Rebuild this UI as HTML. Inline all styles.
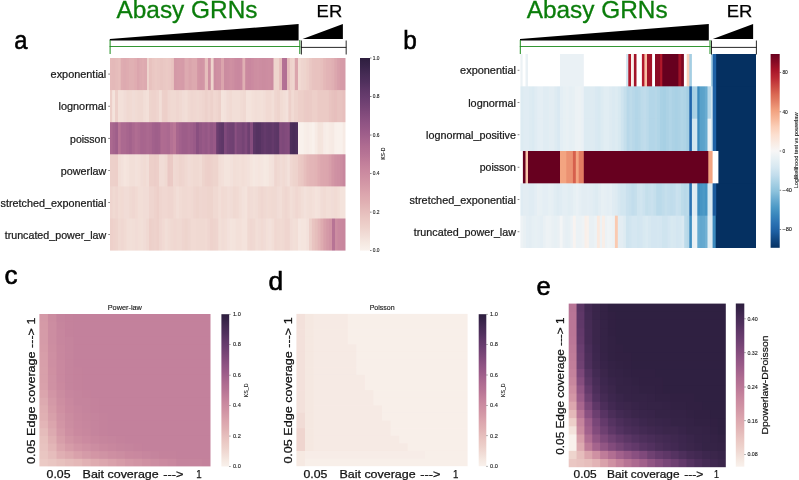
<!DOCTYPE html>
<html lang="en"><head><meta charset="utf-8"><title>Figure</title>
<style>html,body{margin:0;padding:0;background:#fff;overflow:hidden}body{width:799px;height:480px;font-family:"Liberation Sans",sans-serif}svg{will-change:transform}svg text{font-family:"Liberation Sans",sans-serif}</style></head>
<body>
<svg width="799" height="480" viewBox="0 0 799 480" font-family="Liberation Sans, sans-serif" style="display:block">
<rect x="0.00" y="0.00" width="799.00" height="480.00" fill="#ffffff"/>
<defs><mask id="m1" maskUnits="userSpaceOnUse" x="109.00" y="57.00" width="237.50" height="194.60"><rect x="110.00" y="58.00" width="235.50" height="192.60" fill="#fff"/></mask></defs>
<g mask="url(#m1)">
<defs><mask id="m2" maskUnits="userSpaceOnUse" x="106.00" y="54.00" width="243.50" height="38.30"><rect x="107.00" y="55.00" width="241.50" height="36.30" fill="#fff"/></mask></defs>
<g mask="url(#m2)">
<rect x="107.50" y="55.00" width="6.38" height="38.60" fill="#e5baba"/>
<rect x="112.67" y="55.00" width="3.88" height="38.60" fill="#e4b9b9"/>
<rect x="115.35" y="55.00" width="3.88" height="38.60" fill="#e5bcbb"/>
<rect x="118.03" y="55.00" width="3.88" height="38.60" fill="#e7bfbd"/>
<rect x="120.70" y="55.00" width="3.92" height="38.60" fill="#dfacb1"/>
<rect x="123.42" y="55.00" width="3.92" height="38.60" fill="#ddaab0"/>
<rect x="126.13" y="55.00" width="3.92" height="38.60" fill="#dfacb1"/>
<rect x="128.85" y="55.00" width="6.63" height="38.60" fill="#e0b0b3"/>
<rect x="134.28" y="55.00" width="3.92" height="38.60" fill="#dfacb1"/>
<rect x="137.00" y="55.00" width="3.40" height="38.60" fill="#dba5ad"/>
<rect x="139.20" y="55.00" width="3.80" height="38.60" fill="#ddaab0"/>
<rect x="141.80" y="55.00" width="3.80" height="38.60" fill="#dfacb1"/>
<rect x="144.40" y="55.00" width="3.80" height="38.60" fill="#ddaab0"/>
<rect x="147.00" y="55.00" width="3.20" height="38.60" fill="#eed4cd"/>
<rect x="149.00" y="55.00" width="3.97" height="38.60" fill="#e8c2bf"/>
<rect x="151.77" y="55.00" width="3.97" height="38.60" fill="#eac7c3"/>
<rect x="154.53" y="55.00" width="3.97" height="38.60" fill="#ebcac5"/>
<rect x="157.30" y="55.00" width="3.97" height="38.60" fill="#eac8c4"/>
<rect x="160.07" y="55.00" width="3.97" height="38.60" fill="#e9c6c2"/>
<rect x="162.83" y="55.00" width="3.97" height="38.60" fill="#eac8c4"/>
<rect x="165.60" y="55.00" width="3.97" height="38.60" fill="#ebcac5"/>
<rect x="168.37" y="55.00" width="3.97" height="38.60" fill="#eac8c4"/>
<rect x="171.13" y="55.00" width="3.97" height="38.60" fill="#e8c3c0"/>
<rect x="173.90" y="55.00" width="3.85" height="38.60" fill="#d499a7"/>
<rect x="176.55" y="55.00" width="3.85" height="38.60" fill="#d59ba8"/>
<rect x="179.20" y="55.00" width="3.85" height="38.60" fill="#d69ca8"/>
<rect x="181.85" y="55.00" width="3.85" height="38.60" fill="#d59ba8"/>
<rect x="184.50" y="55.00" width="5.40" height="38.60" fill="#ddaab0"/>
<rect x="188.70" y="55.00" width="4.03" height="38.60" fill="#daa4ac"/>
<rect x="191.53" y="55.00" width="6.87" height="38.60" fill="#dda9af"/>
<rect x="197.20" y="55.00" width="3.73" height="38.60" fill="#d396a5"/>
<rect x="199.73" y="55.00" width="3.73" height="38.60" fill="#d194a4"/>
<rect x="202.27" y="55.00" width="3.73" height="38.60" fill="#d396a5"/>
<rect x="204.80" y="55.00" width="4.40" height="38.60" fill="#e6bebc"/>
<rect x="208.00" y="55.00" width="4.00" height="38.60" fill="#cf90a2"/>
<rect x="210.80" y="55.00" width="4.00" height="38.60" fill="#eed4cd"/>
<rect x="213.60" y="55.00" width="3.67" height="38.60" fill="#cc8da1"/>
<rect x="216.07" y="55.00" width="3.67" height="38.60" fill="#cf90a2"/>
<rect x="218.53" y="55.00" width="3.67" height="38.60" fill="#cf91a3"/>
<rect x="221.00" y="55.00" width="4.20" height="38.60" fill="#dba5ad"/>
<rect x="224.00" y="55.00" width="3.83" height="38.60" fill="#cb8ca0"/>
<rect x="226.63" y="55.00" width="3.83" height="38.60" fill="#cc8da1"/>
<rect x="229.26" y="55.00" width="3.83" height="38.60" fill="#cf90a2"/>
<rect x="231.89" y="55.00" width="3.83" height="38.60" fill="#cd8ea1"/>
<rect x="234.51" y="55.00" width="3.83" height="38.60" fill="#ca899f"/>
<rect x="237.14" y="55.00" width="3.83" height="38.60" fill="#c9889f"/>
<rect x="239.77" y="55.00" width="3.83" height="38.60" fill="#cb8aa0"/>
<rect x="242.40" y="55.00" width="4.00" height="38.60" fill="#e0b0b3"/>
<rect x="245.20" y="55.00" width="4.03" height="38.60" fill="#ca899f"/>
<rect x="248.03" y="55.00" width="4.03" height="38.60" fill="#c9889f"/>
<rect x="250.86" y="55.00" width="4.03" height="38.60" fill="#cb8aa0"/>
<rect x="253.69" y="55.00" width="4.03" height="38.60" fill="#cd8ea1"/>
<rect x="256.52" y="55.00" width="4.03" height="38.60" fill="#ce8fa2"/>
<rect x="259.35" y="55.00" width="4.03" height="38.60" fill="#cc8da1"/>
<rect x="262.18" y="55.00" width="4.03" height="38.60" fill="#cb8ca0"/>
<rect x="265.01" y="55.00" width="4.03" height="38.60" fill="#cc8da1"/>
<rect x="267.84" y="55.00" width="4.03" height="38.60" fill="#cd8ea1"/>
<rect x="270.67" y="55.00" width="4.03" height="38.60" fill="#cb8aa0"/>
<rect x="273.50" y="55.00" width="6.90" height="38.60" fill="#eed4cd"/>
<rect x="279.20" y="55.00" width="4.00" height="38.60" fill="#e6bebc"/>
<rect x="282.00" y="55.00" width="3.70" height="38.60" fill="#b47194"/>
<rect x="284.50" y="55.00" width="3.70" height="38.60" fill="#b26f93"/>
<rect x="287.00" y="55.00" width="4.00" height="38.60" fill="#e6bebc"/>
<rect x="289.80" y="55.00" width="3.70" height="38.60" fill="#eed2cc"/>
<rect x="292.30" y="55.00" width="3.70" height="38.60" fill="#efd5cf"/>
<rect x="294.80" y="55.00" width="4.40" height="38.60" fill="#dba5ad"/>
<rect x="298.00" y="55.00" width="3.99" height="38.60" fill="#f1dad3"/>
<rect x="300.79" y="55.00" width="3.99" height="38.60" fill="#efd5cf"/>
<rect x="303.59" y="55.00" width="3.99" height="38.60" fill="#eed4cd"/>
<rect x="306.38" y="55.00" width="3.99" height="38.60" fill="#edcfc9"/>
<rect x="309.18" y="55.00" width="3.99" height="38.60" fill="#eac8c4"/>
<rect x="311.97" y="55.00" width="3.99" height="38.60" fill="#e8c3c0"/>
<rect x="314.76" y="55.00" width="6.79" height="38.60" fill="#e8c2bf"/>
<rect x="320.35" y="55.00" width="3.99" height="38.60" fill="#e7bfbd"/>
<rect x="323.15" y="55.00" width="3.99" height="38.60" fill="#e4b8b8"/>
<rect x="325.94" y="55.00" width="3.99" height="38.60" fill="#e2b4b6"/>
<rect x="328.74" y="55.00" width="3.99" height="38.60" fill="#e2b3b5"/>
<rect x="331.53" y="55.00" width="3.99" height="38.60" fill="#e0afb3"/>
<rect x="334.32" y="55.00" width="3.99" height="38.60" fill="#dca7ae"/>
<rect x="337.12" y="55.00" width="3.99" height="38.60" fill="#d8a0aa"/>
<rect x="339.91" y="55.00" width="3.99" height="38.60" fill="#d69ca8"/>
<rect x="342.71" y="55.00" width="5.29" height="38.60" fill="#d59ba8"/>
</g>
<defs><mask id="m3" maskUnits="userSpaceOnUse" x="106.00" y="89.10" width="243.50" height="35.30"><rect x="107.00" y="90.10" width="241.50" height="33.30" fill="#fff"/></mask></defs>
<g mask="url(#m3)">
<rect x="107.50" y="87.10" width="5.90" height="38.60" fill="#edcfc9"/>
<rect x="112.20" y="87.10" width="4.00" height="38.60" fill="#f4e3dc"/>
<rect x="115.00" y="87.10" width="4.20" height="38.60" fill="#edd0ca"/>
<rect x="118.00" y="87.10" width="6.80" height="38.60" fill="#f3e0d9"/>
<rect x="123.60" y="87.10" width="4.00" height="38.60" fill="#f1dcd6"/>
<rect x="126.40" y="87.10" width="4.00" height="38.60" fill="#f0d9d2"/>
<rect x="129.20" y="87.10" width="4.00" height="38.60" fill="#f1dad3"/>
<rect x="132.00" y="87.10" width="4.00" height="38.60" fill="#f1dcd6"/>
<rect x="134.80" y="87.10" width="4.00" height="38.60" fill="#f1dbd4"/>
<rect x="137.60" y="87.10" width="6.80" height="38.60" fill="#f0d9d2"/>
<rect x="143.20" y="87.10" width="4.00" height="38.60" fill="#f2ded7"/>
<rect x="146.00" y="87.10" width="4.20" height="38.60" fill="#f3e0d9"/>
<rect x="149.00" y="87.10" width="3.70" height="38.60" fill="#eed4cd"/>
<rect x="151.50" y="87.10" width="6.20" height="38.60" fill="#eed2cc"/>
<rect x="156.50" y="87.10" width="3.70" height="38.60" fill="#efd5cf"/>
<rect x="159.00" y="87.10" width="4.00" height="38.60" fill="#f2ded7"/>
<rect x="161.80" y="87.10" width="4.05" height="38.60" fill="#edd0ca"/>
<rect x="164.65" y="87.10" width="4.05" height="38.60" fill="#edcfc9"/>
<rect x="167.50" y="87.10" width="4.08" height="38.60" fill="#efd6d0"/>
<rect x="170.38" y="87.10" width="6.95" height="38.60" fill="#f0d9d2"/>
<rect x="176.12" y="87.10" width="4.08" height="38.60" fill="#efd6d0"/>
<rect x="179.00" y="87.10" width="4.08" height="38.60" fill="#f0d9d2"/>
<rect x="181.88" y="87.10" width="4.08" height="38.60" fill="#f1dcd6"/>
<rect x="184.75" y="87.10" width="4.08" height="38.60" fill="#f2ded7"/>
<rect x="187.62" y="87.10" width="4.08" height="38.60" fill="#f0d9d2"/>
<rect x="190.50" y="87.10" width="4.08" height="38.60" fill="#efd6d0"/>
<rect x="193.38" y="87.10" width="4.08" height="38.60" fill="#f0d7d1"/>
<rect x="196.25" y="87.10" width="4.08" height="38.60" fill="#f0d9d2"/>
<rect x="199.12" y="87.10" width="4.08" height="38.60" fill="#f0d7d1"/>
<rect x="202.00" y="87.10" width="4.00" height="38.60" fill="#efd5cf"/>
<rect x="204.80" y="87.10" width="4.00" height="38.60" fill="#edd1cb"/>
<rect x="207.60" y="87.10" width="4.00" height="38.60" fill="#efd5cf"/>
<rect x="210.40" y="87.10" width="4.00" height="38.60" fill="#edd1cb"/>
<rect x="213.20" y="87.10" width="3.75" height="38.60" fill="#f0d7d1"/>
<rect x="215.75" y="87.10" width="3.75" height="38.60" fill="#efd5cf"/>
<rect x="218.30" y="87.10" width="3.90" height="38.60" fill="#edd1cb"/>
<rect x="221.00" y="87.10" width="3.95" height="38.60" fill="#f4e3dc"/>
<rect x="223.75" y="87.10" width="3.95" height="38.60" fill="#f3e1db"/>
<rect x="226.50" y="87.10" width="3.95" height="38.60" fill="#f1dcd6"/>
<rect x="229.25" y="87.10" width="3.95" height="38.60" fill="#f1dad3"/>
<rect x="232.00" y="87.10" width="9.45" height="38.60" fill="#f2ded7"/>
<rect x="240.25" y="87.10" width="3.95" height="38.60" fill="#f1dbd4"/>
<rect x="243.00" y="87.10" width="4.20" height="38.60" fill="#f0d9d2"/>
<rect x="246.00" y="87.10" width="6.84" height="38.60" fill="#f4e3dc"/>
<rect x="251.64" y="87.10" width="4.02" height="38.60" fill="#f3e0d9"/>
<rect x="254.46" y="87.10" width="4.02" height="38.60" fill="#f2ded7"/>
<rect x="257.28" y="87.10" width="4.02" height="38.60" fill="#f2dfd8"/>
<rect x="260.10" y="87.10" width="4.02" height="38.60" fill="#f3e0d9"/>
<rect x="262.92" y="87.10" width="4.02" height="38.60" fill="#f2ded7"/>
<rect x="265.74" y="87.10" width="6.84" height="38.60" fill="#f1dad3"/>
<rect x="271.38" y="87.10" width="4.02" height="38.60" fill="#f2ded7"/>
<rect x="274.20" y="87.10" width="4.10" height="38.60" fill="#efd6d0"/>
<rect x="277.10" y="87.10" width="4.10" height="38.60" fill="#eed4cd"/>
<rect x="280.00" y="87.10" width="4.00" height="38.60" fill="#f1dbd4"/>
<rect x="282.80" y="87.10" width="4.00" height="38.60" fill="#f2ded7"/>
<rect x="285.60" y="87.10" width="4.00" height="38.60" fill="#f3e1db"/>
<rect x="288.40" y="87.10" width="4.00" height="38.60" fill="#edd0ca"/>
<rect x="291.20" y="87.10" width="4.00" height="38.60" fill="#f1dad3"/>
<rect x="294.00" y="87.10" width="5.20" height="38.60" fill="#eed4cd"/>
<rect x="298.00" y="87.10" width="6.79" height="38.60" fill="#edcfc9"/>
<rect x="303.59" y="87.10" width="3.99" height="38.60" fill="#ebcbc6"/>
<rect x="306.38" y="87.10" width="3.99" height="38.60" fill="#ebcac5"/>
<rect x="309.18" y="87.10" width="3.99" height="38.60" fill="#ebcbc6"/>
<rect x="311.97" y="87.10" width="6.79" height="38.60" fill="#edcfc9"/>
<rect x="317.56" y="87.10" width="12.38" height="38.60" fill="#ebcac5"/>
<rect x="328.74" y="87.10" width="3.99" height="38.60" fill="#e9c4c1"/>
<rect x="331.53" y="87.10" width="3.99" height="38.60" fill="#e7c1be"/>
<rect x="334.32" y="87.10" width="3.99" height="38.60" fill="#e7bfbd"/>
<rect x="337.12" y="87.10" width="6.79" height="38.60" fill="#e8c3c0"/>
<rect x="342.71" y="87.10" width="5.29" height="38.60" fill="#e7bfbd"/>
</g>
<defs><mask id="m4" maskUnits="userSpaceOnUse" x="106.00" y="121.20" width="243.50" height="35.30"><rect x="107.00" y="122.20" width="241.50" height="33.30" fill="#fff"/></mask></defs>
<g mask="url(#m4)">
<rect x="107.50" y="119.20" width="6.37" height="38.60" fill="#ab6990"/>
<rect x="112.67" y="119.20" width="3.87" height="38.60" fill="#a5648d"/>
<rect x="115.33" y="119.20" width="3.87" height="38.60" fill="#9f5f8a"/>
<rect x="118.00" y="119.20" width="3.90" height="38.60" fill="#b77495"/>
<rect x="120.70" y="119.20" width="6.73" height="38.60" fill="#ab6990"/>
<rect x="126.23" y="119.20" width="3.97" height="38.60" fill="#a7658e"/>
<rect x="129.00" y="119.20" width="4.06" height="38.60" fill="#a3628c"/>
<rect x="131.86" y="119.20" width="4.06" height="38.60" fill="#aa688f"/>
<rect x="134.72" y="119.20" width="4.06" height="38.60" fill="#b06d92"/>
<rect x="137.58" y="119.20" width="4.06" height="38.60" fill="#ac6a90"/>
<rect x="140.44" y="119.20" width="4.06" height="38.60" fill="#a7658e"/>
<rect x="143.30" y="119.20" width="4.06" height="38.60" fill="#a8668e"/>
<rect x="146.16" y="119.20" width="4.06" height="38.60" fill="#ab6990"/>
<rect x="149.02" y="119.20" width="4.06" height="38.60" fill="#a9678f"/>
<rect x="151.88" y="119.20" width="4.06" height="38.60" fill="#a2618c"/>
<rect x="154.74" y="119.20" width="4.06" height="38.60" fill="#9f5f8a"/>
<rect x="157.60" y="119.20" width="4.00" height="38.60" fill="#a1608b"/>
<rect x="160.40" y="119.20" width="4.40" height="38.60" fill="#af6c91"/>
<rect x="163.60" y="119.20" width="4.40" height="38.60" fill="#ae6b91"/>
<rect x="166.80" y="119.20" width="4.40" height="38.60" fill="#ab6990"/>
<rect x="170.00" y="119.20" width="4.20" height="38.60" fill="#b47194"/>
<rect x="173.00" y="119.20" width="4.20" height="38.60" fill="#ba7696"/>
<rect x="176.00" y="119.20" width="4.06" height="38.60" fill="#a8668e"/>
<rect x="178.86" y="119.20" width="4.06" height="38.60" fill="#a2618c"/>
<rect x="181.71" y="119.20" width="6.91" height="38.60" fill="#9d5d89"/>
<rect x="187.43" y="119.20" width="4.06" height="38.60" fill="#a1608b"/>
<rect x="190.29" y="119.20" width="4.06" height="38.60" fill="#9e5e8a"/>
<rect x="193.14" y="119.20" width="4.06" height="38.60" fill="#995a88"/>
<rect x="196.00" y="119.20" width="4.10" height="38.60" fill="#894f80"/>
<rect x="198.90" y="119.20" width="4.10" height="38.60" fill="#925684"/>
<rect x="201.80" y="119.20" width="4.10" height="38.60" fill="#985987"/>
<rect x="204.70" y="119.20" width="4.10" height="38.60" fill="#945785"/>
<rect x="207.60" y="119.20" width="3.40" height="38.60" fill="#9b5c89"/>
<rect x="209.80" y="119.20" width="4.40" height="38.60" fill="#925684"/>
<rect x="213.00" y="119.20" width="4.40" height="38.60" fill="#985987"/>
<rect x="216.20" y="119.20" width="3.80" height="38.60" fill="#6b3e6f"/>
<rect x="218.80" y="119.20" width="3.80" height="38.60" fill="#62396a"/>
<rect x="221.40" y="119.20" width="3.80" height="38.60" fill="#5e3767"/>
<rect x="224.00" y="119.20" width="4.00" height="38.60" fill="#7f497b"/>
<rect x="226.80" y="119.20" width="3.80" height="38.60" fill="#744375"/>
<rect x="229.40" y="119.20" width="3.80" height="38.60" fill="#714173"/>
<rect x="232.00" y="119.20" width="3.80" height="38.60" fill="#6f4172"/>
<rect x="234.60" y="119.20" width="3.30" height="38.60" fill="#8a5081"/>
<rect x="236.70" y="119.20" width="6.40" height="38.60" fill="#7c4879"/>
<rect x="241.90" y="119.20" width="3.80" height="38.60" fill="#754475"/>
<rect x="244.50" y="119.20" width="4.00" height="38.60" fill="#7f497b"/>
<rect x="247.30" y="119.20" width="3.90" height="38.60" fill="#6e4071"/>
<rect x="250.00" y="119.20" width="4.20" height="38.60" fill="#854d7e"/>
<rect x="253.00" y="119.20" width="3.85" height="38.60" fill="#5c3666"/>
<rect x="255.65" y="119.20" width="3.85" height="38.60" fill="#553361"/>
<rect x="258.30" y="119.20" width="3.85" height="38.60" fill="#563362"/>
<rect x="260.95" y="119.20" width="3.85" height="38.60" fill="#5e3767"/>
<rect x="263.60" y="119.20" width="3.85" height="38.60" fill="#643a6b"/>
<rect x="266.25" y="119.20" width="3.85" height="38.60" fill="#5f3868"/>
<rect x="268.90" y="119.20" width="3.85" height="38.60" fill="#5e3767"/>
<rect x="271.55" y="119.20" width="3.85" height="38.60" fill="#643a6b"/>
<rect x="274.20" y="119.20" width="3.70" height="38.60" fill="#5e3767"/>
<rect x="276.70" y="119.20" width="3.70" height="38.60" fill="#5b3665"/>
<rect x="279.20" y="119.20" width="3.85" height="38.60" fill="#824b7c"/>
<rect x="281.85" y="119.20" width="3.85" height="38.60" fill="#7e497a"/>
<rect x="284.50" y="119.20" width="3.85" height="38.60" fill="#824b7c"/>
<rect x="287.15" y="119.20" width="3.85" height="38.60" fill="#854d7e"/>
<rect x="289.80" y="119.20" width="3.93" height="38.60" fill="#4c2e5a"/>
<rect x="292.53" y="119.20" width="3.93" height="38.60" fill="#482c57"/>
<rect x="295.27" y="119.20" width="3.93" height="38.60" fill="#4d2f5b"/>
<rect x="298.00" y="119.20" width="6.79" height="38.60" fill="#f9f1ec"/>
<rect x="303.59" y="119.20" width="3.99" height="38.60" fill="#f8eee8"/>
<rect x="306.38" y="119.20" width="3.99" height="38.60" fill="#f7ece7"/>
<rect x="309.18" y="119.20" width="3.99" height="38.60" fill="#f8efe9"/>
<rect x="311.97" y="119.20" width="3.99" height="38.60" fill="#f9f1ec"/>
<rect x="314.76" y="119.20" width="3.99" height="38.60" fill="#f7ebe5"/>
<rect x="317.56" y="119.20" width="3.99" height="38.60" fill="#f4e4dd"/>
<rect x="320.35" y="119.20" width="3.99" height="38.60" fill="#f5e5de"/>
<rect x="323.15" y="119.20" width="3.99" height="38.60" fill="#f7ece7"/>
<rect x="325.94" y="119.20" width="3.99" height="38.60" fill="#f8eee8"/>
<rect x="328.74" y="119.20" width="3.99" height="38.60" fill="#f7ebe5"/>
<rect x="331.53" y="119.20" width="3.99" height="38.60" fill="#f6eae4"/>
<rect x="334.32" y="119.20" width="3.99" height="38.60" fill="#f9f0eb"/>
<rect x="337.12" y="119.20" width="6.79" height="38.60" fill="#f9f1ec"/>
<rect x="342.71" y="119.20" width="5.29" height="38.60" fill="#f7ebe5"/>
</g>
<defs><mask id="m5" maskUnits="userSpaceOnUse" x="106.00" y="153.30" width="243.50" height="35.30"><rect x="107.00" y="154.30" width="241.50" height="33.30" fill="#fff"/></mask></defs>
<g mask="url(#m5)">
<rect x="107.50" y="151.30" width="9.03" height="38.60" fill="#edd0ca"/>
<rect x="115.33" y="151.30" width="3.87" height="38.60" fill="#edcfc9"/>
<rect x="118.00" y="151.30" width="4.02" height="38.60" fill="#f2ded7"/>
<rect x="120.82" y="151.30" width="4.02" height="38.60" fill="#f3e1db"/>
<rect x="123.64" y="151.30" width="4.02" height="38.60" fill="#f5e5de"/>
<rect x="126.45" y="151.30" width="4.02" height="38.60" fill="#f4e3dc"/>
<rect x="129.27" y="151.30" width="6.84" height="38.60" fill="#f2dfd8"/>
<rect x="134.91" y="151.30" width="4.02" height="38.60" fill="#f3e1db"/>
<rect x="137.73" y="151.30" width="4.02" height="38.60" fill="#f3e0d9"/>
<rect x="140.55" y="151.30" width="4.02" height="38.60" fill="#f1dcd6"/>
<rect x="143.36" y="151.30" width="4.02" height="38.60" fill="#f1dbd4"/>
<rect x="146.18" y="151.30" width="4.02" height="38.60" fill="#f2ded7"/>
<rect x="149.00" y="151.30" width="6.20" height="38.60" fill="#edcfc9"/>
<rect x="154.00" y="151.30" width="3.70" height="38.60" fill="#eccdc8"/>
<rect x="156.50" y="151.30" width="3.70" height="38.60" fill="#edcfc9"/>
<rect x="159.00" y="151.30" width="6.87" height="38.60" fill="#f1dcd6"/>
<rect x="164.67" y="151.30" width="4.03" height="38.60" fill="#f0d9d2"/>
<rect x="167.50" y="151.30" width="3.95" height="38.60" fill="#eac8c4"/>
<rect x="170.25" y="151.30" width="3.95" height="38.60" fill="#ebcac5"/>
<rect x="173.00" y="151.30" width="4.10" height="38.60" fill="#f0d9d2"/>
<rect x="175.90" y="151.30" width="4.10" height="38.60" fill="#f0d7d1"/>
<rect x="178.80" y="151.30" width="4.10" height="38.60" fill="#eed4cd"/>
<rect x="181.70" y="151.30" width="4.10" height="38.60" fill="#efd5cf"/>
<rect x="184.60" y="151.30" width="4.10" height="38.60" fill="#f0d9d2"/>
<rect x="187.50" y="151.30" width="4.10" height="38.60" fill="#f1dcd6"/>
<rect x="190.40" y="151.30" width="4.10" height="38.60" fill="#f1dbd4"/>
<rect x="193.30" y="151.30" width="7.00" height="38.60" fill="#f0d9d2"/>
<rect x="199.10" y="151.30" width="4.10" height="38.60" fill="#f1dbd4"/>
<rect x="202.00" y="151.30" width="3.92" height="38.60" fill="#eed4cd"/>
<rect x="204.72" y="151.30" width="3.92" height="38.60" fill="#edd0ca"/>
<rect x="207.43" y="151.30" width="3.92" height="38.60" fill="#edcfc9"/>
<rect x="210.15" y="151.30" width="3.92" height="38.60" fill="#edd1cb"/>
<rect x="212.87" y="151.30" width="6.63" height="38.60" fill="#eed4cd"/>
<rect x="218.30" y="151.30" width="4.11" height="38.60" fill="#f2ded7"/>
<rect x="221.21" y="151.30" width="4.11" height="38.60" fill="#f3e0d9"/>
<rect x="224.12" y="151.30" width="7.02" height="38.60" fill="#f4e4dd"/>
<rect x="229.94" y="151.30" width="4.11" height="38.60" fill="#f3e1db"/>
<rect x="232.86" y="151.30" width="4.11" height="38.60" fill="#f2ded7"/>
<rect x="235.77" y="151.30" width="4.11" height="38.60" fill="#f2dfd8"/>
<rect x="238.68" y="151.30" width="4.11" height="38.60" fill="#f3e0d9"/>
<rect x="241.59" y="151.30" width="4.11" height="38.60" fill="#f2ded7"/>
<rect x="244.50" y="151.30" width="3.90" height="38.60" fill="#f3e0d9"/>
<rect x="247.20" y="151.30" width="3.90" height="38.60" fill="#f3e1db"/>
<rect x="249.90" y="151.30" width="3.90" height="38.60" fill="#f5e5de"/>
<rect x="252.60" y="151.30" width="3.90" height="38.60" fill="#f5e8e1"/>
<rect x="255.30" y="151.30" width="3.90" height="38.60" fill="#f5e6e0"/>
<rect x="258.00" y="151.30" width="3.90" height="38.60" fill="#f5e5de"/>
<rect x="260.70" y="151.30" width="3.90" height="38.60" fill="#f5e6e0"/>
<rect x="263.40" y="151.30" width="3.90" height="38.60" fill="#f6e9e2"/>
<rect x="266.10" y="151.30" width="3.90" height="38.60" fill="#f5e8e1"/>
<rect x="268.80" y="151.30" width="3.90" height="38.60" fill="#f4e3dc"/>
<rect x="271.50" y="151.30" width="3.90" height="38.60" fill="#f3e1db"/>
<rect x="274.20" y="151.30" width="4.00" height="38.60" fill="#efd6d0"/>
<rect x="277.00" y="151.30" width="4.00" height="38.60" fill="#f0d9d2"/>
<rect x="279.80" y="151.30" width="3.70" height="38.60" fill="#f1dcd6"/>
<rect x="282.30" y="151.30" width="3.70" height="38.60" fill="#f1dad3"/>
<rect x="284.80" y="151.30" width="3.70" height="38.60" fill="#f1dcd6"/>
<rect x="287.30" y="151.30" width="3.70" height="38.60" fill="#f3e1db"/>
<rect x="289.80" y="151.30" width="3.93" height="38.60" fill="#f0d7d1"/>
<rect x="292.53" y="151.30" width="3.93" height="38.60" fill="#eed4cd"/>
<rect x="295.27" y="151.30" width="3.93" height="38.60" fill="#eed2cc"/>
<rect x="298.00" y="151.30" width="3.99" height="38.60" fill="#ebcac5"/>
<rect x="300.79" y="151.30" width="3.99" height="38.60" fill="#eac7c3"/>
<rect x="303.59" y="151.30" width="3.99" height="38.60" fill="#e7bfbd"/>
<rect x="306.38" y="151.30" width="3.99" height="38.60" fill="#e4b8b8"/>
<rect x="309.18" y="151.30" width="6.79" height="38.60" fill="#e3b5b7"/>
<rect x="314.76" y="151.30" width="3.99" height="38.60" fill="#e2b3b5"/>
<rect x="317.56" y="151.30" width="3.99" height="38.60" fill="#dfacb1"/>
<rect x="320.35" y="151.30" width="3.99" height="38.60" fill="#dca7ae"/>
<rect x="323.15" y="151.30" width="3.99" height="38.60" fill="#dca6ae"/>
<rect x="325.94" y="151.30" width="3.99" height="38.60" fill="#dba5ad"/>
<rect x="328.74" y="151.30" width="3.99" height="38.60" fill="#d89faa"/>
<rect x="331.53" y="151.30" width="3.99" height="38.60" fill="#d396a5"/>
<rect x="334.32" y="151.30" width="3.99" height="38.60" fill="#cf91a3"/>
<rect x="337.12" y="151.30" width="3.99" height="38.60" fill="#ce8fa2"/>
<rect x="339.91" y="151.30" width="3.99" height="38.60" fill="#cc8da1"/>
<rect x="342.71" y="151.30" width="5.29" height="38.60" fill="#c8879e"/>
</g>
<defs><mask id="m6" maskUnits="userSpaceOnUse" x="106.00" y="185.40" width="243.50" height="35.30"><rect x="107.00" y="186.40" width="241.50" height="33.30" fill="#fff"/></mask></defs>
<g mask="url(#m6)">
<rect x="107.50" y="183.40" width="6.37" height="38.60" fill="#efd5cf"/>
<rect x="112.67" y="183.40" width="3.87" height="38.60" fill="#f0d9d2"/>
<rect x="115.33" y="183.40" width="3.87" height="38.60" fill="#efd6d0"/>
<rect x="118.00" y="183.40" width="4.02" height="38.60" fill="#f1dbd4"/>
<rect x="120.82" y="183.40" width="4.02" height="38.60" fill="#f1dad3"/>
<rect x="123.64" y="183.40" width="6.84" height="38.60" fill="#f1dcd6"/>
<rect x="129.27" y="183.40" width="4.02" height="38.60" fill="#f0d9d2"/>
<rect x="132.09" y="183.40" width="4.02" height="38.60" fill="#f0d7d1"/>
<rect x="134.91" y="183.40" width="4.02" height="38.60" fill="#f1dad3"/>
<rect x="137.73" y="183.40" width="6.84" height="38.60" fill="#f2ded7"/>
<rect x="143.36" y="183.40" width="6.84" height="38.60" fill="#f1dcd6"/>
<rect x="149.00" y="183.40" width="6.20" height="38.60" fill="#efd5cf"/>
<rect x="154.00" y="183.40" width="3.70" height="38.60" fill="#eed2cc"/>
<rect x="156.50" y="183.40" width="3.70" height="38.60" fill="#edcfc9"/>
<rect x="159.00" y="183.40" width="4.07" height="38.60" fill="#efd5cf"/>
<rect x="161.87" y="183.40" width="6.93" height="38.60" fill="#f0d7d1"/>
<rect x="167.60" y="183.40" width="6.93" height="38.60" fill="#efd5cf"/>
<rect x="173.33" y="183.40" width="4.07" height="38.60" fill="#f1dad3"/>
<rect x="176.20" y="183.40" width="4.07" height="38.60" fill="#f2ded7"/>
<rect x="179.07" y="183.40" width="4.07" height="38.60" fill="#f1dbd4"/>
<rect x="181.93" y="183.40" width="6.93" height="38.60" fill="#f0d9d2"/>
<rect x="187.67" y="183.40" width="4.07" height="38.60" fill="#f1dad3"/>
<rect x="190.53" y="183.40" width="4.07" height="38.60" fill="#f0d9d2"/>
<rect x="193.40" y="183.40" width="4.07" height="38.60" fill="#efd5cf"/>
<rect x="196.27" y="183.40" width="4.07" height="38.60" fill="#eed4cd"/>
<rect x="199.13" y="183.40" width="4.07" height="38.60" fill="#efd6d0"/>
<rect x="202.00" y="183.40" width="6.63" height="38.60" fill="#efd5cf"/>
<rect x="207.43" y="183.40" width="6.63" height="38.60" fill="#eed4cd"/>
<rect x="212.87" y="183.40" width="6.63" height="38.60" fill="#f0d9d2"/>
<rect x="218.30" y="183.40" width="4.11" height="38.60" fill="#f2ded7"/>
<rect x="221.21" y="183.40" width="4.11" height="38.60" fill="#f1dad3"/>
<rect x="224.12" y="183.40" width="4.11" height="38.60" fill="#f1dbd4"/>
<rect x="227.03" y="183.40" width="4.11" height="38.60" fill="#f2ded7"/>
<rect x="229.94" y="183.40" width="4.11" height="38.60" fill="#f1dcd6"/>
<rect x="232.86" y="183.40" width="4.11" height="38.60" fill="#f0d9d2"/>
<rect x="235.77" y="183.40" width="4.11" height="38.60" fill="#f1dad3"/>
<rect x="238.68" y="183.40" width="4.11" height="38.60" fill="#f2ded7"/>
<rect x="241.59" y="183.40" width="4.11" height="38.60" fill="#f3e1db"/>
<rect x="244.50" y="183.40" width="4.00" height="38.60" fill="#f4e3dc"/>
<rect x="247.30" y="183.40" width="3.89" height="38.60" fill="#f1dbd4"/>
<rect x="249.99" y="183.40" width="3.89" height="38.60" fill="#f1dcd6"/>
<rect x="252.68" y="183.40" width="3.89" height="38.60" fill="#f2ded7"/>
<rect x="255.37" y="183.40" width="3.89" height="38.60" fill="#f1dcd6"/>
<rect x="258.06" y="183.40" width="3.89" height="38.60" fill="#f0d9d2"/>
<rect x="260.75" y="183.40" width="3.89" height="38.60" fill="#efd6d0"/>
<rect x="263.44" y="183.40" width="3.89" height="38.60" fill="#f0d9d2"/>
<rect x="266.13" y="183.40" width="3.89" height="38.60" fill="#f1dbd4"/>
<rect x="268.82" y="183.40" width="3.89" height="38.60" fill="#f1dad3"/>
<rect x="271.51" y="183.40" width="6.49" height="38.60" fill="#f0d9d2"/>
<rect x="276.80" y="183.40" width="3.80" height="38.60" fill="#f1dcd6"/>
<rect x="279.40" y="183.40" width="3.80" height="38.60" fill="#f2ded7"/>
<rect x="282.00" y="183.40" width="3.80" height="38.60" fill="#f0d9d2"/>
<rect x="284.60" y="183.40" width="3.80" height="38.60" fill="#efd6d0"/>
<rect x="287.20" y="183.40" width="3.80" height="38.60" fill="#f0d9d2"/>
<rect x="289.80" y="183.40" width="3.93" height="38.60" fill="#f2ded7"/>
<rect x="292.53" y="183.40" width="3.93" height="38.60" fill="#f1dbd4"/>
<rect x="295.27" y="183.40" width="3.93" height="38.60" fill="#f0d7d1"/>
<rect x="298.00" y="183.40" width="3.99" height="38.60" fill="#f1dad3"/>
<rect x="300.79" y="183.40" width="3.99" height="38.60" fill="#f2ded7"/>
<rect x="303.59" y="183.40" width="3.99" height="38.60" fill="#f3e1db"/>
<rect x="306.38" y="183.40" width="3.99" height="38.60" fill="#f2dfd8"/>
<rect x="309.18" y="183.40" width="3.99" height="38.60" fill="#f2ded7"/>
<rect x="311.97" y="183.40" width="3.99" height="38.60" fill="#f3e0d9"/>
<rect x="314.76" y="183.40" width="3.99" height="38.60" fill="#f4e3dc"/>
<rect x="317.56" y="183.40" width="3.99" height="38.60" fill="#f3e1db"/>
<rect x="320.35" y="183.40" width="3.99" height="38.60" fill="#f1dcd6"/>
<rect x="323.15" y="183.40" width="3.99" height="38.60" fill="#f1dbd4"/>
<rect x="325.94" y="183.40" width="6.79" height="38.60" fill="#f2ded7"/>
<rect x="331.53" y="183.40" width="3.99" height="38.60" fill="#f1dcd6"/>
<rect x="334.32" y="183.40" width="3.99" height="38.60" fill="#f1dbd4"/>
<rect x="337.12" y="183.40" width="3.99" height="38.60" fill="#f2ded7"/>
<rect x="339.91" y="183.40" width="8.09" height="38.60" fill="#f4e3dc"/>
</g>
<defs><mask id="m7" maskUnits="userSpaceOnUse" x="106.00" y="217.50" width="243.50" height="37.10"><rect x="107.00" y="218.50" width="241.50" height="35.10" fill="#fff"/></mask></defs>
<g mask="url(#m7)">
<rect x="107.50" y="215.50" width="6.37" height="38.60" fill="#edd0ca"/>
<rect x="112.67" y="215.50" width="3.87" height="38.60" fill="#eed2cc"/>
<rect x="115.33" y="215.50" width="3.87" height="38.60" fill="#eed4cd"/>
<rect x="118.00" y="215.50" width="4.02" height="38.60" fill="#f0d9d2"/>
<rect x="120.82" y="215.50" width="4.02" height="38.60" fill="#f0d7d1"/>
<rect x="123.64" y="215.50" width="4.02" height="38.60" fill="#f1dad3"/>
<rect x="126.45" y="215.50" width="4.02" height="38.60" fill="#f2ded7"/>
<rect x="129.27" y="215.50" width="4.02" height="38.60" fill="#f2dfd8"/>
<rect x="132.09" y="215.50" width="4.02" height="38.60" fill="#f2ded7"/>
<rect x="134.91" y="215.50" width="4.02" height="38.60" fill="#f1dcd6"/>
<rect x="137.73" y="215.50" width="4.02" height="38.60" fill="#f2ded7"/>
<rect x="140.55" y="215.50" width="4.02" height="38.60" fill="#f2dfd8"/>
<rect x="143.36" y="215.50" width="4.02" height="38.60" fill="#f1dcd6"/>
<rect x="146.18" y="215.50" width="4.02" height="38.60" fill="#f0d9d2"/>
<rect x="149.00" y="215.50" width="3.70" height="38.60" fill="#edcfc9"/>
<rect x="151.50" y="215.50" width="3.70" height="38.60" fill="#edd1cb"/>
<rect x="154.00" y="215.50" width="3.70" height="38.60" fill="#eed2cc"/>
<rect x="156.50" y="215.50" width="3.70" height="38.60" fill="#edd0ca"/>
<rect x="159.00" y="215.50" width="4.07" height="38.60" fill="#efd6d0"/>
<rect x="161.87" y="215.50" width="4.07" height="38.60" fill="#f1dad3"/>
<rect x="164.73" y="215.50" width="4.07" height="38.60" fill="#f2ded7"/>
<rect x="167.60" y="215.50" width="4.07" height="38.60" fill="#f1dbd4"/>
<rect x="170.47" y="215.50" width="4.07" height="38.60" fill="#f0d9d2"/>
<rect x="173.33" y="215.50" width="4.07" height="38.60" fill="#f0d7d1"/>
<rect x="176.20" y="215.50" width="6.93" height="38.60" fill="#f0d9d2"/>
<rect x="181.93" y="215.50" width="4.07" height="38.60" fill="#efd5cf"/>
<rect x="184.80" y="215.50" width="4.07" height="38.60" fill="#eed4cd"/>
<rect x="187.67" y="215.50" width="4.07" height="38.60" fill="#efd6d0"/>
<rect x="190.53" y="215.50" width="6.93" height="38.60" fill="#f1dad3"/>
<rect x="196.27" y="215.50" width="9.65" height="38.60" fill="#f0d9d2"/>
<rect x="204.72" y="215.50" width="3.92" height="38.60" fill="#f1dad3"/>
<rect x="207.43" y="215.50" width="3.92" height="38.60" fill="#efd6d0"/>
<rect x="210.15" y="215.50" width="3.92" height="38.60" fill="#eed2cc"/>
<rect x="212.87" y="215.50" width="3.92" height="38.60" fill="#eed4cd"/>
<rect x="215.58" y="215.50" width="3.92" height="38.60" fill="#efd5cf"/>
<rect x="218.30" y="215.50" width="4.11" height="38.60" fill="#f2dfd8"/>
<rect x="221.21" y="215.50" width="4.11" height="38.60" fill="#f1dcd6"/>
<rect x="224.12" y="215.50" width="4.11" height="38.60" fill="#f2ded7"/>
<rect x="227.03" y="215.50" width="4.11" height="38.60" fill="#f3e1db"/>
<rect x="229.94" y="215.50" width="4.11" height="38.60" fill="#f4e4dd"/>
<rect x="232.86" y="215.50" width="4.11" height="38.60" fill="#f4e3dc"/>
<rect x="235.77" y="215.50" width="7.02" height="38.60" fill="#f3e0d9"/>
<rect x="241.59" y="215.50" width="6.91" height="38.60" fill="#f4e3dc"/>
<rect x="247.30" y="215.50" width="3.89" height="38.60" fill="#f0d9d2"/>
<rect x="249.99" y="215.50" width="3.89" height="38.60" fill="#f0d7d1"/>
<rect x="252.68" y="215.50" width="3.89" height="38.60" fill="#f0d9d2"/>
<rect x="255.37" y="215.50" width="3.89" height="38.60" fill="#f2ded7"/>
<rect x="258.06" y="215.50" width="3.89" height="38.60" fill="#f1dcd6"/>
<rect x="260.75" y="215.50" width="3.89" height="38.60" fill="#f1dad3"/>
<rect x="263.44" y="215.50" width="3.89" height="38.60" fill="#f1dcd6"/>
<rect x="266.13" y="215.50" width="3.89" height="38.60" fill="#f3e0d9"/>
<rect x="268.82" y="215.50" width="3.89" height="38.60" fill="#f3e1db"/>
<rect x="271.51" y="215.50" width="3.89" height="38.60" fill="#f2ded7"/>
<rect x="274.20" y="215.50" width="3.80" height="38.60" fill="#f0d7d1"/>
<rect x="276.80" y="215.50" width="3.80" height="38.60" fill="#f0d9d2"/>
<rect x="279.40" y="215.50" width="3.80" height="38.60" fill="#f1dad3"/>
<rect x="282.00" y="215.50" width="3.80" height="38.60" fill="#f0d9d2"/>
<rect x="284.60" y="215.50" width="6.40" height="38.60" fill="#efd5cf"/>
<rect x="289.80" y="215.50" width="3.93" height="38.60" fill="#f1dcd6"/>
<rect x="292.53" y="215.50" width="3.93" height="38.60" fill="#f2dfd8"/>
<rect x="295.27" y="215.50" width="3.93" height="38.60" fill="#f2ded7"/>
<rect x="298.00" y="215.50" width="3.95" height="38.60" fill="#f5e6e0"/>
<rect x="300.75" y="215.50" width="6.70" height="38.60" fill="#f5e5de"/>
<rect x="306.25" y="215.50" width="3.95" height="38.60" fill="#f3e1db"/>
<rect x="309.00" y="215.50" width="4.08" height="38.60" fill="#edd1cb"/>
<rect x="311.88" y="215.50" width="4.08" height="38.60" fill="#e9c4c1"/>
<rect x="314.75" y="215.50" width="4.08" height="38.60" fill="#e6bebc"/>
<rect x="317.62" y="215.50" width="4.08" height="38.60" fill="#e3b5b7"/>
<rect x="320.50" y="215.50" width="4.08" height="38.60" fill="#deabb0"/>
<rect x="323.38" y="215.50" width="4.08" height="38.60" fill="#d8a0aa"/>
<rect x="326.25" y="215.50" width="4.08" height="38.60" fill="#d499a7"/>
<rect x="329.12" y="215.50" width="4.08" height="38.60" fill="#d194a4"/>
<rect x="332.00" y="215.50" width="4.20" height="38.60" fill="#b77495"/>
<rect x="335.00" y="215.50" width="3.83" height="38.60" fill="#cc8da1"/>
<rect x="337.62" y="215.50" width="6.45" height="38.60" fill="#c9889f"/>
<rect x="342.88" y="215.50" width="5.12" height="38.60" fill="#c8879e"/>
</g>
</g>
<text x="106.30" y="78.35" font-size="10.3" text-anchor="end" fill="#1a1a1a" stroke="#1a1a1a" stroke-width="0.23" textLength="55.7" lengthAdjust="spacingAndGlyphs">exponential</text>
<rect x="108.20" y="73.75" width="1.80" height="0.60" fill="#333"/>
<text x="106.30" y="110.45" font-size="10.3" text-anchor="end" fill="#1a1a1a" stroke="#1a1a1a" stroke-width="0.23" textLength="47.8" lengthAdjust="spacingAndGlyphs">lognormal</text>
<rect x="108.20" y="105.85" width="1.80" height="0.60" fill="#333"/>
<text x="106.30" y="142.55" font-size="10.3" text-anchor="end" fill="#1a1a1a" stroke="#1a1a1a" stroke-width="0.23" textLength="36.2" lengthAdjust="spacingAndGlyphs">poisson</text>
<rect x="108.20" y="137.95" width="1.80" height="0.60" fill="#333"/>
<text x="106.30" y="174.65" font-size="10.3" text-anchor="end" fill="#1a1a1a" stroke="#1a1a1a" stroke-width="0.23" textLength="45.5" lengthAdjust="spacingAndGlyphs">powerlaw</text>
<rect x="108.20" y="170.05" width="1.80" height="0.60" fill="#333"/>
<text x="106.30" y="206.75" font-size="10.3" text-anchor="end" fill="#1a1a1a" stroke="#1a1a1a" stroke-width="0.23" textLength="105.8" lengthAdjust="spacingAndGlyphs">stretched_exponential</text>
<rect x="108.20" y="202.15" width="1.80" height="0.60" fill="#333"/>
<text x="106.30" y="238.85" font-size="10.3" text-anchor="end" fill="#1a1a1a" stroke="#1a1a1a" stroke-width="0.23" textLength="101.6" lengthAdjust="spacingAndGlyphs">truncated_power_law</text>
<rect x="108.20" y="234.25" width="1.80" height="0.60" fill="#333"/>
<path d="M109.8,39.1 L298.6,24.1 L298.6,40.6 L109.8,40.6 Z" fill="#000"/>
<rect x="109.60" y="40.00" width="1.00" height="14.00" fill="#1d8c1d"/>
<rect x="109.60" y="46.10" width="190.60" height="0.90" fill="#1d8c1d"/>
<rect x="299.30" y="40.00" width="1.00" height="14.00" fill="#1d8c1d"/>
<path d="M302.6,38.9 L342.9,24 L342.9,38.9 Z" fill="#000"/>
<rect x="300.90" y="40.50" width="0.90" height="14.00" fill="#111"/>
<rect x="300.90" y="46.90" width="45.40" height="0.90" fill="#111"/>
<rect x="345.70" y="40.50" width="0.90" height="14.00" fill="#111"/>
<text x="116.50" y="17.70" font-size="24.2" text-anchor="start" fill="#0b7d0b" textLength="141.0" lengthAdjust="spacingAndGlyphs" stroke="#0b7d0b" stroke-width="0.3">Abasy GRNs</text>
<text x="316.60" y="17.10" font-size="17.4" text-anchor="start" fill="#000" textLength="25.6" lengthAdjust="spacingAndGlyphs" stroke="#000" stroke-width="0.25">ER</text>
<defs><linearGradient id="g8" x1="0" y1="0" x2="0" y2="1"><stop offset="0.0000" stop-color="#2d1e3e"/><stop offset="0.0417" stop-color="#382449"/><stop offset="0.0833" stop-color="#452b54"/><stop offset="0.1250" stop-color="#50305d"/><stop offset="0.1667" stop-color="#5e3767"/><stop offset="0.2083" stop-color="#693d6f"/><stop offset="0.2500" stop-color="#754475"/><stop offset="0.2917" stop-color="#824b7c"/><stop offset="0.3333" stop-color="#8e5383"/><stop offset="0.3750" stop-color="#995a88"/><stop offset="0.4167" stop-color="#a4638d"/><stop offset="0.4583" stop-color="#af6c91"/><stop offset="0.5000" stop-color="#b77495"/><stop offset="0.5417" stop-color="#c17e9a"/><stop offset="0.5833" stop-color="#c9889f"/><stop offset="0.6250" stop-color="#cf91a3"/><stop offset="0.6667" stop-color="#d59ba8"/><stop offset="0.7083" stop-color="#dca6ae"/><stop offset="0.7500" stop-color="#e0b0b3"/><stop offset="0.7917" stop-color="#e5bcbb"/><stop offset="0.8333" stop-color="#eac7c3"/><stop offset="0.8750" stop-color="#edd1cb"/><stop offset="0.9167" stop-color="#f1dcd6"/><stop offset="0.9583" stop-color="#f5e8e1"/><stop offset="1.0000" stop-color="#f9f1ec"/></linearGradient></defs>
<rect x="360.00" y="58.00" width="10.00" height="192.60" fill="url(#g8)"/>
<rect x="370.00" y="250.30" width="1.50" height="0.60" fill="#333"/>
<text x="372.80" y="252.30" font-size="4.7" text-anchor="start" fill="#222" stroke="#222" stroke-width="0.10" textLength="6.8" lengthAdjust="spacingAndGlyphs">0.0</text>
<rect x="370.00" y="211.78" width="1.50" height="0.60" fill="#333"/>
<text x="372.80" y="213.78" font-size="4.7" text-anchor="start" fill="#222" stroke="#222" stroke-width="0.10" textLength="6.8" lengthAdjust="spacingAndGlyphs">0.2</text>
<rect x="370.00" y="173.26" width="1.50" height="0.60" fill="#333"/>
<text x="372.80" y="175.26" font-size="4.7" text-anchor="start" fill="#222" stroke="#222" stroke-width="0.10" textLength="6.8" lengthAdjust="spacingAndGlyphs">0.4</text>
<rect x="370.00" y="134.74" width="1.50" height="0.60" fill="#333"/>
<text x="372.80" y="136.74" font-size="4.7" text-anchor="start" fill="#222" stroke="#222" stroke-width="0.10" textLength="6.8" lengthAdjust="spacingAndGlyphs">0.6</text>
<rect x="370.00" y="96.22" width="1.50" height="0.60" fill="#333"/>
<text x="372.80" y="98.22" font-size="4.7" text-anchor="start" fill="#222" stroke="#222" stroke-width="0.10" textLength="6.8" lengthAdjust="spacingAndGlyphs">0.8</text>
<rect x="370.00" y="57.70" width="1.50" height="0.60" fill="#333"/>
<text x="372.80" y="59.70" font-size="4.7" text-anchor="start" fill="#222" stroke="#222" stroke-width="0.10" textLength="6.8" lengthAdjust="spacingAndGlyphs">1.0</text>
<text x="385.40" y="153.70" font-size="5.2" text-anchor="middle" fill="#222" stroke="#222" stroke-width="0.11" textLength="12.2" lengthAdjust="spacingAndGlyphs" transform="rotate(-90 385.40 153.70)">KS-D</text>
<text x="14.20" y="48.70" font-size="26.6" text-anchor="start" fill="#000" stroke="#000" stroke-width="0.59" textLength="13.2" lengthAdjust="spacingAndGlyphs">a</text>
<defs><mask id="m9" maskUnits="userSpaceOnUse" x="519.40" y="53.00" width="237.60" height="196.00"><rect x="520.40" y="54.00" width="235.60" height="194.00" fill="#fff"/></mask></defs>
<g mask="url(#m9)">
<defs><mask id="m10" maskUnits="userSpaceOnUse" x="516.40" y="50.00" width="243.60" height="38.53"><rect x="517.40" y="51.00" width="241.60" height="36.53" fill="#fff"/></mask></defs>
<g mask="url(#m10)">
<rect x="517.90" y="51.00" width="5.90" height="38.83" fill="#ecf2f5"/>
<rect x="522.60" y="51.00" width="4.10" height="38.83" fill="#ffffff"/>
<rect x="525.50" y="51.00" width="3.70" height="38.83" fill="#eaf1f5"/>
<rect x="528.00" y="51.00" width="33.20" height="38.83" fill="#ffffff"/>
<rect x="560.00" y="51.00" width="25.00" height="38.83" fill="#eaf1f5"/>
<rect x="583.80" y="51.00" width="43.50" height="38.83" fill="#ffffff"/>
<rect x="626.10" y="51.00" width="3.40" height="38.83" fill="#d1e5f0"/>
<rect x="628.30" y="51.00" width="3.90" height="38.83" fill="#b1182b"/>
<rect x="631.00" y="51.00" width="4.10" height="38.83" fill="#f8f1ed"/>
<rect x="633.90" y="51.00" width="3.80" height="38.83" fill="#a21328"/>
<rect x="636.50" y="51.00" width="6.60" height="38.83" fill="#ffffff"/>
<rect x="641.90" y="51.00" width="3.70" height="38.83" fill="#b1182b"/>
<rect x="644.40" y="51.00" width="3.80" height="38.83" fill="#f8bfa4"/>
<rect x="647.00" y="51.00" width="6.30" height="38.83" fill="#a21328"/>
<rect x="652.10" y="51.00" width="4.10" height="38.83" fill="#ffffff"/>
<rect x="655.00" y="51.00" width="6.30" height="38.83" fill="#8a0b25"/>
<rect x="660.10" y="51.00" width="3.40" height="38.83" fill="#b1182b"/>
<rect x="662.30" y="51.00" width="17.30" height="38.83" fill="#67001f"/>
<rect x="678.40" y="51.00" width="4.10" height="38.83" fill="#a21328"/>
<rect x="681.30" y="51.00" width="3.80" height="38.83" fill="#7c0722"/>
<rect x="683.90" y="51.00" width="4.00" height="38.83" fill="#ffffff"/>
<rect x="686.70" y="51.00" width="3.80" height="38.83" fill="#fbd0b9"/>
<rect x="689.30" y="51.00" width="3.80" height="38.83" fill="#a5cee3"/>
<rect x="691.90" y="51.00" width="20.20" height="38.83" fill="#ffffff"/>
<rect x="710.90" y="51.00" width="3.00" height="38.83" fill="#a5cee3"/>
<rect x="712.70" y="51.00" width="4.70" height="38.83" fill="#1e61a5"/>
<rect x="716.20" y="51.00" width="42.30" height="38.83" fill="#053061"/>
</g>
<defs><mask id="m11" maskUnits="userSpaceOnUse" x="516.40" y="85.33" width="243.60" height="35.53"><rect x="517.40" y="86.33" width="241.60" height="33.53" fill="#fff"/></mask></defs>
<g mask="url(#m11)">
<rect x="517.90" y="83.33" width="6.53" height="38.83" fill="#ddebf2"/>
<rect x="523.23" y="83.33" width="6.86" height="38.83" fill="#e0ecf3"/>
<rect x="528.89" y="83.33" width="4.03" height="38.83" fill="#ddebf2"/>
<rect x="531.71" y="83.33" width="4.03" height="38.83" fill="#dbeaf2"/>
<rect x="534.54" y="83.33" width="4.03" height="38.83" fill="#e0ecf3"/>
<rect x="537.37" y="83.33" width="6.86" height="38.83" fill="#e4eef4"/>
<rect x="543.03" y="83.33" width="6.86" height="38.83" fill="#e0ecf3"/>
<rect x="548.69" y="83.33" width="6.86" height="38.83" fill="#e3edf3"/>
<rect x="554.34" y="83.33" width="4.03" height="38.83" fill="#deebf2"/>
<rect x="557.17" y="83.33" width="4.03" height="38.83" fill="#dae9f2"/>
<rect x="560.00" y="83.33" width="4.17" height="38.83" fill="#e4eef4"/>
<rect x="562.98" y="83.33" width="4.17" height="38.83" fill="#e7f0f4"/>
<rect x="565.95" y="83.33" width="4.17" height="38.83" fill="#e9f0f4"/>
<rect x="568.92" y="83.33" width="4.17" height="38.83" fill="#e6eff4"/>
<rect x="571.90" y="83.33" width="4.17" height="38.83" fill="#e7f0f4"/>
<rect x="574.88" y="83.33" width="4.17" height="38.83" fill="#ecf2f5"/>
<rect x="577.85" y="83.33" width="4.17" height="38.83" fill="#edf2f5"/>
<rect x="580.82" y="83.33" width="4.17" height="38.83" fill="#eaf1f5"/>
<rect x="583.80" y="83.33" width="6.84" height="38.83" fill="#ddebf2"/>
<rect x="589.44" y="83.33" width="4.02" height="38.83" fill="#deebf2"/>
<rect x="592.26" y="83.33" width="4.02" height="38.83" fill="#ddebf2"/>
<rect x="595.08" y="83.33" width="4.02" height="38.83" fill="#dae9f2"/>
<rect x="597.90" y="83.33" width="4.02" height="38.83" fill="#d8e9f1"/>
<rect x="600.72" y="83.33" width="4.02" height="38.83" fill="#ddebf2"/>
<rect x="603.54" y="83.33" width="6.84" height="38.83" fill="#e1edf3"/>
<rect x="609.18" y="83.33" width="4.02" height="38.83" fill="#deebf2"/>
<rect x="612.00" y="83.33" width="4.12" height="38.83" fill="#dbeaf2"/>
<rect x="614.92" y="83.33" width="4.12" height="38.83" fill="#ddebf2"/>
<rect x="617.84" y="83.33" width="4.12" height="38.83" fill="#d8e9f1"/>
<rect x="620.76" y="83.33" width="4.12" height="38.83" fill="#cfe4ef"/>
<rect x="623.68" y="83.33" width="4.12" height="38.83" fill="#c5dfec"/>
<rect x="626.60" y="83.33" width="3.98" height="38.83" fill="#b8d8e9"/>
<rect x="629.38" y="83.33" width="3.98" height="38.83" fill="#bddbea"/>
<rect x="632.17" y="83.33" width="3.98" height="38.83" fill="#b8d8e9"/>
<rect x="634.95" y="83.33" width="3.98" height="38.83" fill="#b3d6e8"/>
<rect x="637.73" y="83.33" width="3.98" height="38.83" fill="#b6d7e8"/>
<rect x="640.52" y="83.33" width="3.98" height="38.83" fill="#bddbea"/>
<rect x="643.30" y="83.33" width="3.98" height="38.83" fill="#c0dceb"/>
<rect x="646.08" y="83.33" width="3.98" height="38.83" fill="#bbdaea"/>
<rect x="648.87" y="83.33" width="6.77" height="38.83" fill="#b3d6e8"/>
<rect x="654.43" y="83.33" width="3.98" height="38.83" fill="#b6d7e8"/>
<rect x="657.22" y="83.33" width="3.98" height="38.83" fill="#b1d5e7"/>
<rect x="660.00" y="83.33" width="4.13" height="38.83" fill="#a9d1e5"/>
<rect x="662.93" y="83.33" width="4.13" height="38.83" fill="#a7d0e4"/>
<rect x="665.86" y="83.33" width="4.13" height="38.83" fill="#acd2e5"/>
<rect x="668.79" y="83.33" width="4.13" height="38.83" fill="#b1d5e7"/>
<rect x="671.72" y="83.33" width="4.13" height="38.83" fill="#acd2e5"/>
<rect x="674.65" y="83.33" width="4.13" height="38.83" fill="#a9d1e5"/>
<rect x="677.58" y="83.33" width="4.13" height="38.83" fill="#acd2e5"/>
<rect x="680.51" y="83.33" width="4.13" height="38.83" fill="#b1d5e7"/>
<rect x="683.44" y="83.33" width="4.13" height="38.83" fill="#aed3e6"/>
<rect x="686.37" y="83.33" width="4.13" height="38.83" fill="#a5cee3"/>
<rect x="689.30" y="83.33" width="3.80" height="38.83" fill="#2065ab"/>
<rect x="691.90" y="83.33" width="3.90" height="38.83" fill="#a7d0e4"/>
<rect x="694.60" y="83.33" width="3.90" height="38.83" fill="#acd2e5"/>
<rect x="697.30" y="83.33" width="3.40" height="38.83" fill="#3c8abe"/>
<rect x="699.50" y="83.33" width="3.87" height="38.83" fill="#59a1ca"/>
<rect x="702.17" y="83.33" width="3.87" height="38.83" fill="#5ca3cb"/>
<rect x="704.83" y="83.33" width="3.87" height="38.83" fill="#68abd0"/>
<rect x="707.50" y="83.33" width="4.60" height="38.83" fill="#b8d8e9"/>
<rect x="710.90" y="83.33" width="3.00" height="38.83" fill="#d1e5f0"/>
<rect x="712.70" y="83.33" width="4.70" height="38.83" fill="#1e61a5"/>
<rect x="716.20" y="83.33" width="42.30" height="38.83" fill="#053061"/>
</g>
<defs><mask id="m12" maskUnits="userSpaceOnUse" x="516.40" y="117.67" width="243.60" height="35.53"><rect x="517.40" y="118.67" width="241.60" height="33.53" fill="#fff"/></mask></defs>
<g mask="url(#m12)">
<rect x="517.90" y="115.67" width="6.53" height="38.83" fill="#ddebf2"/>
<rect x="523.23" y="115.67" width="6.86" height="38.83" fill="#e0ecf3"/>
<rect x="528.89" y="115.67" width="4.03" height="38.83" fill="#ddebf2"/>
<rect x="531.71" y="115.67" width="4.03" height="38.83" fill="#dbeaf2"/>
<rect x="534.54" y="115.67" width="4.03" height="38.83" fill="#e0ecf3"/>
<rect x="537.37" y="115.67" width="6.86" height="38.83" fill="#e4eef4"/>
<rect x="543.03" y="115.67" width="6.86" height="38.83" fill="#e0ecf3"/>
<rect x="548.69" y="115.67" width="6.86" height="38.83" fill="#e3edf3"/>
<rect x="554.34" y="115.67" width="4.03" height="38.83" fill="#deebf2"/>
<rect x="557.17" y="115.67" width="4.03" height="38.83" fill="#dae9f2"/>
<rect x="560.00" y="115.67" width="4.17" height="38.83" fill="#e4eef4"/>
<rect x="562.98" y="115.67" width="4.17" height="38.83" fill="#e7f0f4"/>
<rect x="565.95" y="115.67" width="4.17" height="38.83" fill="#e9f0f4"/>
<rect x="568.92" y="115.67" width="4.17" height="38.83" fill="#e6eff4"/>
<rect x="571.90" y="115.67" width="4.17" height="38.83" fill="#e7f0f4"/>
<rect x="574.88" y="115.67" width="4.17" height="38.83" fill="#ecf2f5"/>
<rect x="577.85" y="115.67" width="4.17" height="38.83" fill="#edf2f5"/>
<rect x="580.82" y="115.67" width="4.17" height="38.83" fill="#eaf1f5"/>
<rect x="583.80" y="115.67" width="6.84" height="38.83" fill="#ddebf2"/>
<rect x="589.44" y="115.67" width="4.02" height="38.83" fill="#deebf2"/>
<rect x="592.26" y="115.67" width="4.02" height="38.83" fill="#ddebf2"/>
<rect x="595.08" y="115.67" width="4.02" height="38.83" fill="#dae9f2"/>
<rect x="597.90" y="115.67" width="4.02" height="38.83" fill="#d8e9f1"/>
<rect x="600.72" y="115.67" width="4.02" height="38.83" fill="#ddebf2"/>
<rect x="603.54" y="115.67" width="6.84" height="38.83" fill="#e1edf3"/>
<rect x="609.18" y="115.67" width="4.02" height="38.83" fill="#deebf2"/>
<rect x="612.00" y="115.67" width="4.12" height="38.83" fill="#dbeaf2"/>
<rect x="614.92" y="115.67" width="4.12" height="38.83" fill="#ddebf2"/>
<rect x="617.84" y="115.67" width="4.12" height="38.83" fill="#d8e9f1"/>
<rect x="620.76" y="115.67" width="4.12" height="38.83" fill="#cfe4ef"/>
<rect x="623.68" y="115.67" width="4.12" height="38.83" fill="#c5dfec"/>
<rect x="626.60" y="115.67" width="3.98" height="38.83" fill="#b8d8e9"/>
<rect x="629.38" y="115.67" width="3.98" height="38.83" fill="#bddbea"/>
<rect x="632.17" y="115.67" width="3.98" height="38.83" fill="#b8d8e9"/>
<rect x="634.95" y="115.67" width="3.98" height="38.83" fill="#b3d6e8"/>
<rect x="637.73" y="115.67" width="3.98" height="38.83" fill="#b6d7e8"/>
<rect x="640.52" y="115.67" width="3.98" height="38.83" fill="#bddbea"/>
<rect x="643.30" y="115.67" width="3.98" height="38.83" fill="#c0dceb"/>
<rect x="646.08" y="115.67" width="3.98" height="38.83" fill="#bbdaea"/>
<rect x="648.87" y="115.67" width="6.77" height="38.83" fill="#b3d6e8"/>
<rect x="654.43" y="115.67" width="3.98" height="38.83" fill="#b6d7e8"/>
<rect x="657.22" y="115.67" width="3.98" height="38.83" fill="#b1d5e7"/>
<rect x="660.00" y="115.67" width="4.13" height="38.83" fill="#a9d1e5"/>
<rect x="662.93" y="115.67" width="4.13" height="38.83" fill="#a7d0e4"/>
<rect x="665.86" y="115.67" width="4.13" height="38.83" fill="#acd2e5"/>
<rect x="668.79" y="115.67" width="4.13" height="38.83" fill="#b1d5e7"/>
<rect x="671.72" y="115.67" width="4.13" height="38.83" fill="#acd2e5"/>
<rect x="674.65" y="115.67" width="4.13" height="38.83" fill="#a9d1e5"/>
<rect x="677.58" y="115.67" width="4.13" height="38.83" fill="#acd2e5"/>
<rect x="680.51" y="115.67" width="4.13" height="38.83" fill="#b1d5e7"/>
<rect x="683.44" y="115.67" width="4.13" height="38.83" fill="#aed3e6"/>
<rect x="686.37" y="115.67" width="4.13" height="38.83" fill="#a5cee3"/>
<rect x="689.30" y="115.67" width="3.80" height="38.83" fill="#2065ab"/>
<rect x="691.90" y="115.67" width="3.90" height="38.83" fill="#d2e6f0"/>
<rect x="694.60" y="115.67" width="3.90" height="38.83" fill="#d5e7f1"/>
<rect x="697.30" y="115.67" width="3.40" height="38.83" fill="#3c8abe"/>
<rect x="699.50" y="115.67" width="3.87" height="38.83" fill="#59a1ca"/>
<rect x="702.17" y="115.67" width="3.87" height="38.83" fill="#5ca3cb"/>
<rect x="704.83" y="115.67" width="3.87" height="38.83" fill="#68abd0"/>
<rect x="707.50" y="115.67" width="4.90" height="38.83" fill="#eff3f5"/>
<rect x="711.20" y="115.67" width="2.70" height="38.83" fill="#d1e5f0"/>
<rect x="712.70" y="115.67" width="4.70" height="38.83" fill="#1e61a5"/>
<rect x="716.20" y="115.67" width="42.30" height="38.83" fill="#053061"/>
</g>
<defs><mask id="m13" maskUnits="userSpaceOnUse" x="516.40" y="150.00" width="243.60" height="35.53"><rect x="517.40" y="151.00" width="241.60" height="33.53" fill="#fff"/></mask></defs>
<g mask="url(#m13)">
<rect x="517.90" y="148.00" width="6.20" height="38.83" fill="#ffffff"/>
<rect x="522.90" y="148.00" width="3.80" height="38.83" fill="#67001f"/>
<rect x="525.50" y="148.00" width="3.70" height="38.83" fill="#f9c6ac"/>
<rect x="528.00" y="148.00" width="33.20" height="38.83" fill="#67001f"/>
<rect x="560.00" y="148.00" width="7.50" height="38.83" fill="#f3a481"/>
<rect x="566.30" y="148.00" width="7.80" height="38.83" fill="#eb9172"/>
<rect x="572.90" y="148.00" width="4.10" height="38.83" fill="#d6604d"/>
<rect x="575.80" y="148.00" width="4.10" height="38.83" fill="#f3a481"/>
<rect x="578.70" y="148.00" width="6.30" height="38.83" fill="#e27b62"/>
<rect x="583.80" y="148.00" width="125.70" height="38.83" fill="#67001f"/>
<rect x="708.30" y="148.00" width="5.50" height="38.83" fill="#f3a481"/>
<rect x="712.60" y="148.00" width="7.00" height="38.83" fill="#ffffff"/>
<rect x="718.40" y="148.00" width="40.10" height="38.83" fill="#053061"/>
</g>
<defs><mask id="m14" maskUnits="userSpaceOnUse" x="516.40" y="182.33" width="243.60" height="35.53"><rect x="517.40" y="183.33" width="241.60" height="33.53" fill="#fff"/></mask></defs>
<g mask="url(#m14)">
<rect x="517.90" y="180.33" width="6.48" height="38.83" fill="#e0ecf3"/>
<rect x="523.18" y="180.33" width="6.75" height="38.83" fill="#e3edf3"/>
<rect x="528.73" y="180.33" width="6.75" height="38.83" fill="#e0ecf3"/>
<rect x="534.28" y="180.33" width="3.98" height="38.83" fill="#e4eef4"/>
<rect x="537.05" y="180.33" width="3.98" height="38.83" fill="#e9f0f4"/>
<rect x="539.83" y="180.33" width="3.98" height="38.83" fill="#e7f0f4"/>
<rect x="542.61" y="180.33" width="6.75" height="38.83" fill="#e4eef4"/>
<rect x="548.16" y="180.33" width="3.98" height="38.83" fill="#e7f0f4"/>
<rect x="550.93" y="180.33" width="3.98" height="38.83" fill="#e6eff4"/>
<rect x="553.71" y="180.33" width="3.98" height="38.83" fill="#e1edf3"/>
<rect x="556.48" y="180.33" width="3.98" height="38.83" fill="#deebf2"/>
<rect x="559.26" y="180.33" width="3.98" height="38.83" fill="#e0ecf3"/>
<rect x="562.04" y="180.33" width="6.75" height="38.83" fill="#e4eef4"/>
<rect x="567.59" y="180.33" width="3.98" height="38.83" fill="#e1edf3"/>
<rect x="570.36" y="180.33" width="3.98" height="38.83" fill="#e3edf3"/>
<rect x="573.14" y="180.33" width="3.98" height="38.83" fill="#e7f0f4"/>
<rect x="575.92" y="180.33" width="3.98" height="38.83" fill="#eaf1f5"/>
<rect x="578.69" y="180.33" width="3.98" height="38.83" fill="#e6eff4"/>
<rect x="581.47" y="180.33" width="6.75" height="38.83" fill="#e3edf3"/>
<rect x="587.02" y="180.33" width="3.98" height="38.83" fill="#e4eef4"/>
<rect x="589.79" y="180.33" width="3.98" height="38.83" fill="#e3edf3"/>
<rect x="592.57" y="180.33" width="3.98" height="38.83" fill="#e0ecf3"/>
<rect x="595.35" y="180.33" width="3.98" height="38.83" fill="#deebf2"/>
<rect x="598.12" y="180.33" width="3.98" height="38.83" fill="#e3edf3"/>
<rect x="600.90" y="180.33" width="3.98" height="38.83" fill="#e7f0f4"/>
<rect x="603.67" y="180.33" width="3.98" height="38.83" fill="#e6eff4"/>
<rect x="606.45" y="180.33" width="3.98" height="38.83" fill="#e4eef4"/>
<rect x="609.22" y="180.33" width="3.98" height="38.83" fill="#e6eff4"/>
<rect x="612.00" y="180.33" width="3.98" height="38.83" fill="#e0ecf3"/>
<rect x="614.78" y="180.33" width="3.98" height="38.83" fill="#deebf2"/>
<rect x="617.56" y="180.33" width="3.98" height="38.83" fill="#d7e8f1"/>
<rect x="620.34" y="180.33" width="6.76" height="38.83" fill="#d2e6f0"/>
<rect x="625.90" y="180.33" width="3.96" height="38.83" fill="#cae1ee"/>
<rect x="628.66" y="180.33" width="3.96" height="38.83" fill="#c7e0ed"/>
<rect x="631.41" y="180.33" width="3.96" height="38.83" fill="#c2ddec"/>
<rect x="634.17" y="180.33" width="3.96" height="38.83" fill="#c5dfec"/>
<rect x="636.93" y="180.33" width="3.96" height="38.83" fill="#cfe4ef"/>
<rect x="639.68" y="180.33" width="3.96" height="38.83" fill="#d1e5f0"/>
<rect x="642.44" y="180.33" width="3.96" height="38.83" fill="#cce2ef"/>
<rect x="645.20" y="180.33" width="3.96" height="38.83" fill="#c5dfec"/>
<rect x="647.95" y="180.33" width="3.96" height="38.83" fill="#c7e0ed"/>
<rect x="650.71" y="180.33" width="3.96" height="38.83" fill="#cae1ee"/>
<rect x="653.47" y="180.33" width="3.96" height="38.83" fill="#c5dfec"/>
<rect x="656.22" y="180.33" width="6.71" height="38.83" fill="#bbdaea"/>
<rect x="661.73" y="180.33" width="3.96" height="38.83" fill="#c0dceb"/>
<rect x="664.49" y="180.33" width="3.96" height="38.83" fill="#c5dfec"/>
<rect x="667.25" y="180.33" width="3.96" height="38.83" fill="#c2ddec"/>
<rect x="670.00" y="180.33" width="3.96" height="38.83" fill="#c0dceb"/>
<rect x="672.76" y="180.33" width="3.96" height="38.83" fill="#c2ddec"/>
<rect x="675.52" y="180.33" width="3.96" height="38.83" fill="#cae1ee"/>
<rect x="678.27" y="180.33" width="3.96" height="38.83" fill="#c7e0ed"/>
<rect x="681.03" y="180.33" width="3.96" height="38.83" fill="#bddbea"/>
<rect x="683.79" y="180.33" width="3.96" height="38.83" fill="#b8d8e9"/>
<rect x="686.54" y="180.33" width="3.96" height="38.83" fill="#bbdaea"/>
<rect x="689.30" y="180.33" width="3.80" height="38.83" fill="#2b73b3"/>
<rect x="691.90" y="180.33" width="3.90" height="38.83" fill="#e1edf3"/>
<rect x="694.60" y="180.33" width="3.90" height="38.83" fill="#deebf2"/>
<rect x="697.30" y="180.33" width="3.75" height="38.83" fill="#408fc1"/>
<rect x="699.85" y="180.33" width="3.75" height="38.83" fill="#4695c4"/>
<rect x="702.40" y="180.33" width="3.75" height="38.83" fill="#4c99c6"/>
<rect x="704.95" y="180.33" width="3.75" height="38.83" fill="#4695c4"/>
<rect x="707.50" y="180.33" width="3.75" height="38.83" fill="#d8e9f1"/>
<rect x="710.05" y="180.33" width="3.75" height="38.83" fill="#dae9f2"/>
<rect x="712.60" y="180.33" width="4.80" height="38.83" fill="#1b5a9c"/>
<rect x="716.20" y="180.33" width="42.30" height="38.83" fill="#053061"/>
</g>
<defs><mask id="m15" maskUnits="userSpaceOnUse" x="516.40" y="214.67" width="243.60" height="37.33"><rect x="517.40" y="215.67" width="241.60" height="35.33" fill="#fff"/></mask></defs>
<g mask="url(#m15)">
<rect x="517.90" y="212.67" width="6.51" height="38.83" fill="#edf2f5"/>
<rect x="523.21" y="212.67" width="4.01" height="38.83" fill="#e9f0f4"/>
<rect x="526.01" y="212.67" width="4.01" height="38.83" fill="#e4eef4"/>
<rect x="528.82" y="212.67" width="4.01" height="38.83" fill="#e3edf3"/>
<rect x="531.63" y="212.67" width="4.01" height="38.83" fill="#e6eff4"/>
<rect x="534.44" y="212.67" width="4.01" height="38.83" fill="#e7f0f4"/>
<rect x="537.24" y="212.67" width="4.01" height="38.83" fill="#e6eff4"/>
<rect x="540.05" y="212.67" width="4.01" height="38.83" fill="#e4eef4"/>
<rect x="542.86" y="212.67" width="4.01" height="38.83" fill="#e9f0f4"/>
<rect x="545.66" y="212.67" width="4.01" height="38.83" fill="#edf2f5"/>
<rect x="548.47" y="212.67" width="4.01" height="38.83" fill="#ecf2f5"/>
<rect x="551.28" y="212.67" width="4.01" height="38.83" fill="#e9f0f4"/>
<rect x="554.09" y="212.67" width="4.01" height="38.83" fill="#e7f0f4"/>
<rect x="556.89" y="212.67" width="4.01" height="38.83" fill="#e9f0f4"/>
<rect x="559.70" y="212.67" width="4.10" height="38.83" fill="#f3f5f6"/>
<rect x="562.60" y="212.67" width="3.77" height="38.83" fill="#e9f0f4"/>
<rect x="565.17" y="212.67" width="3.77" height="38.83" fill="#e6eff4"/>
<rect x="567.75" y="212.67" width="3.77" height="38.83" fill="#e7f0f4"/>
<rect x="570.33" y="212.67" width="3.77" height="38.83" fill="#ecf2f5"/>
<rect x="572.90" y="212.67" width="4.10" height="38.83" fill="#f8f3f0"/>
<rect x="575.80" y="212.67" width="7.00" height="38.83" fill="#ecf2f5"/>
<rect x="581.60" y="212.67" width="4.10" height="38.83" fill="#eff3f5"/>
<rect x="584.50" y="212.67" width="3.40" height="38.83" fill="#f9efe9"/>
<rect x="586.70" y="212.67" width="3.40" height="38.83" fill="#f8f1ed"/>
<rect x="588.90" y="212.67" width="6.53" height="38.83" fill="#e9f0f4"/>
<rect x="594.23" y="212.67" width="3.87" height="38.83" fill="#ecf2f5"/>
<rect x="596.90" y="212.67" width="4.10" height="38.83" fill="#fae9df"/>
<rect x="599.80" y="212.67" width="3.40" height="38.83" fill="#ecf2f5"/>
<rect x="602.00" y="212.67" width="4.10" height="38.83" fill="#f9eee7"/>
<rect x="604.90" y="212.67" width="3.57" height="38.83" fill="#ecf2f5"/>
<rect x="607.27" y="212.67" width="3.57" height="38.83" fill="#f0f4f6"/>
<rect x="609.63" y="212.67" width="3.57" height="38.83" fill="#eff3f5"/>
<rect x="612.00" y="212.67" width="4.10" height="38.83" fill="#ecf2f5"/>
<rect x="614.90" y="212.67" width="4.10" height="38.83" fill="#facab1"/>
<rect x="617.80" y="212.67" width="6.60" height="38.83" fill="#e3edf3"/>
<rect x="623.20" y="212.67" width="3.90" height="38.83" fill="#deebf2"/>
<rect x="625.90" y="212.67" width="3.98" height="38.83" fill="#cfe4ef"/>
<rect x="628.68" y="212.67" width="3.98" height="38.83" fill="#d1e5f0"/>
<rect x="631.45" y="212.67" width="6.75" height="38.83" fill="#d5e7f1"/>
<rect x="637.00" y="212.67" width="3.98" height="38.83" fill="#d2e6f0"/>
<rect x="639.78" y="212.67" width="3.98" height="38.83" fill="#d4e6f1"/>
<rect x="642.56" y="212.67" width="3.98" height="38.83" fill="#d8e9f1"/>
<rect x="645.33" y="212.67" width="3.98" height="38.83" fill="#dbeaf2"/>
<rect x="648.11" y="212.67" width="3.98" height="38.83" fill="#d7e8f1"/>
<rect x="650.89" y="212.67" width="6.75" height="38.83" fill="#d4e6f1"/>
<rect x="656.44" y="212.67" width="3.98" height="38.83" fill="#d5e7f1"/>
<rect x="659.21" y="212.67" width="3.98" height="38.83" fill="#d4e6f1"/>
<rect x="661.99" y="212.67" width="6.75" height="38.83" fill="#cfe4ef"/>
<rect x="667.54" y="212.67" width="3.98" height="38.83" fill="#d4e6f1"/>
<rect x="670.32" y="212.67" width="3.98" height="38.83" fill="#d8e9f1"/>
<rect x="673.10" y="212.67" width="3.98" height="38.83" fill="#d7e8f1"/>
<rect x="675.87" y="212.67" width="3.98" height="38.83" fill="#d4e6f1"/>
<rect x="678.65" y="212.67" width="3.98" height="38.83" fill="#d5e7f1"/>
<rect x="681.42" y="212.67" width="3.98" height="38.83" fill="#dae9f2"/>
<rect x="684.20" y="212.67" width="3.75" height="38.83" fill="#bddbea"/>
<rect x="686.75" y="212.67" width="3.75" height="38.83" fill="#b6d7e8"/>
<rect x="689.30" y="212.67" width="3.80" height="38.83" fill="#3f8ec0"/>
<rect x="691.90" y="212.67" width="3.90" height="38.83" fill="#e9f0f4"/>
<rect x="694.60" y="212.67" width="3.90" height="38.83" fill="#ecf2f5"/>
<rect x="697.30" y="212.67" width="3.75" height="38.83" fill="#68abd0"/>
<rect x="699.85" y="212.67" width="3.75" height="38.83" fill="#62a7ce"/>
<rect x="702.40" y="212.67" width="3.75" height="38.83" fill="#65a9cf"/>
<rect x="704.95" y="212.67" width="3.75" height="38.83" fill="#71b0d3"/>
<rect x="707.50" y="212.67" width="3.75" height="38.83" fill="#e1edf3"/>
<rect x="710.05" y="212.67" width="3.75" height="38.83" fill="#deebf2"/>
<rect x="712.60" y="212.67" width="4.30" height="38.83" fill="#3c8abe"/>
<rect x="715.70" y="212.67" width="42.80" height="38.83" fill="#053061"/>
</g>
</g>
<text x="516.00" y="74.27" font-size="10.3" text-anchor="end" fill="#1a1a1a" stroke="#1a1a1a" stroke-width="0.23" textLength="55.9" lengthAdjust="spacingAndGlyphs">exponential</text>
<rect x="517.60" y="69.87" width="1.80" height="0.60" fill="#333"/>
<text x="516.00" y="106.60" font-size="10.3" text-anchor="end" fill="#1a1a1a" stroke="#1a1a1a" stroke-width="0.23" textLength="47.8" lengthAdjust="spacingAndGlyphs">lognormal</text>
<rect x="517.60" y="102.20" width="1.80" height="0.60" fill="#333"/>
<text x="516.00" y="138.93" font-size="10.3" text-anchor="end" fill="#1a1a1a" stroke="#1a1a1a" stroke-width="0.23" textLength="90.0" lengthAdjust="spacingAndGlyphs">lognormal_positive</text>
<rect x="517.60" y="134.53" width="1.80" height="0.60" fill="#333"/>
<text x="516.00" y="171.27" font-size="10.3" text-anchor="end" fill="#1a1a1a" stroke="#1a1a1a" stroke-width="0.23" textLength="36.3" lengthAdjust="spacingAndGlyphs">poisson</text>
<rect x="517.60" y="166.87" width="1.80" height="0.60" fill="#333"/>
<text x="516.00" y="203.60" font-size="10.3" text-anchor="end" fill="#1a1a1a" stroke="#1a1a1a" stroke-width="0.23" textLength="106.5" lengthAdjust="spacingAndGlyphs">stretched_exponential</text>
<rect x="517.60" y="199.20" width="1.80" height="0.60" fill="#333"/>
<text x="516.00" y="235.93" font-size="10.3" text-anchor="end" fill="#1a1a1a" stroke="#1a1a1a" stroke-width="0.23" textLength="102.2" lengthAdjust="spacingAndGlyphs">truncated_power_law</text>
<rect x="517.60" y="231.53" width="1.80" height="0.60" fill="#333"/>
<path d="M520.0,39.1 L708.8,24.1 L708.8,40.6 L520.0,40.6 Z" fill="#000"/>
<rect x="519.80" y="40.00" width="1.00" height="14.00" fill="#1d8c1d"/>
<rect x="519.80" y="46.10" width="190.60" height="0.90" fill="#1d8c1d"/>
<rect x="709.50" y="40.00" width="1.00" height="14.00" fill="#1d8c1d"/>
<path d="M712.8,38.9 L753.1,24 L753.1,38.9 Z" fill="#000"/>
<rect x="711.10" y="40.50" width="0.90" height="14.00" fill="#111"/>
<rect x="711.10" y="46.90" width="45.40" height="0.90" fill="#111"/>
<rect x="755.90" y="40.50" width="0.90" height="14.00" fill="#111"/>
<text x="526.70" y="17.70" font-size="24.2" text-anchor="start" fill="#0b7d0b" textLength="141.0" lengthAdjust="spacingAndGlyphs" stroke="#0b7d0b" stroke-width="0.3">Abasy GRNs</text>
<text x="726.80" y="17.10" font-size="17.4" text-anchor="start" fill="#000" textLength="25.6" lengthAdjust="spacingAndGlyphs" stroke="#000" stroke-width="0.25">ER</text>
<defs><linearGradient id="g16" x1="0" y1="0" x2="0" y2="1"><stop offset="0.0000" stop-color="#6a011f"/><stop offset="0.0417" stop-color="#870a24"/><stop offset="0.0833" stop-color="#a81529"/><stop offset="0.1250" stop-color="#bb2a34"/><stop offset="0.1667" stop-color="#cb4942"/><stop offset="0.2083" stop-color="#da6853"/><stop offset="0.2500" stop-color="#e58368"/><stop offset="0.2917" stop-color="#f2a17f"/><stop offset="0.3333" stop-color="#f7b799"/><stop offset="0.3750" stop-color="#fbceb7"/><stop offset="0.4167" stop-color="#fcdfcf"/><stop offset="0.4583" stop-color="#f9ebe3"/><stop offset="0.5000" stop-color="#f7f6f6"/><stop offset="0.5417" stop-color="#e7f0f4"/><stop offset="0.5833" stop-color="#d7e8f1"/><stop offset="0.6250" stop-color="#c2ddec"/><stop offset="0.6667" stop-color="#a7d0e4"/><stop offset="0.7083" stop-color="#8dc2dc"/><stop offset="0.7500" stop-color="#6bacd1"/><stop offset="0.7917" stop-color="#4c99c6"/><stop offset="0.8333" stop-color="#3885bc"/><stop offset="0.8750" stop-color="#2a71b2"/><stop offset="0.9167" stop-color="#1d5fa2"/><stop offset="0.9583" stop-color="#114781"/><stop offset="1.0000" stop-color="#063264"/></linearGradient></defs>
<rect x="770.60" y="54.00" width="9.10" height="193.80" fill="url(#g16)"/>
<rect x="779.70" y="72.38" width="1.40" height="0.60" fill="#333"/>
<text x="782.40" y="74.38" font-size="4.8" text-anchor="start" fill="#222" stroke="#222" stroke-width="0.11" textLength="5.4" lengthAdjust="spacingAndGlyphs">80</text>
<rect x="779.70" y="111.54" width="1.40" height="0.60" fill="#333"/>
<text x="782.40" y="113.54" font-size="4.8" text-anchor="start" fill="#222" stroke="#222" stroke-width="0.11" textLength="5.4" lengthAdjust="spacingAndGlyphs">40</text>
<rect x="779.70" y="150.70" width="1.40" height="0.60" fill="#333"/>
<text x="782.40" y="152.70" font-size="4.8" text-anchor="start" fill="#222" stroke="#222" stroke-width="0.11" textLength="2.6" lengthAdjust="spacingAndGlyphs">0</text>
<rect x="779.70" y="189.86" width="1.40" height="0.60" fill="#333"/>
<text x="782.40" y="191.86" font-size="4.8" text-anchor="start" fill="#222" stroke="#222" stroke-width="0.11" textLength="9.6" lengthAdjust="spacingAndGlyphs">−40</text>
<rect x="779.70" y="229.02" width="1.40" height="0.60" fill="#333"/>
<text x="782.40" y="231.02" font-size="4.8" text-anchor="start" fill="#222" stroke="#222" stroke-width="0.11" textLength="9.6" lengthAdjust="spacingAndGlyphs">−80</text>
<text x="797.90" y="150.40" font-size="5.2" text-anchor="middle" fill="#222" stroke="#222" stroke-width="0.11" textLength="75.8" lengthAdjust="spacingAndGlyphs" transform="rotate(-90 797.90 150.40)">Loglikelihood test vs powerlaw</text>
<text x="403.20" y="48.80" font-size="26.6" text-anchor="start" fill="#000" stroke="#000" stroke-width="0.59" textLength="13.6" lengthAdjust="spacingAndGlyphs">b</text>
<defs><mask id="m17" maskUnits="userSpaceOnUse" x="38.40" y="313.00" width="173.10" height="154.40"><rect x="39.40" y="314.00" width="171.10" height="152.40" fill="#fff"/></mask></defs>
<g mask="url(#m17)">
<defs><mask id="m18" maskUnits="userSpaceOnUse" x="35.40" y="310.00" width="179.10" height="13.82"><rect x="36.40" y="311.00" width="177.10" height="11.82" fill="#fff"/></mask></defs>
<g mask="url(#m18)">
<rect x="36.90" y="311.00" width="12.26" height="14.12" fill="#d499a7"/>
<rect x="47.95" y="311.00" width="9.76" height="14.12" fill="#cb8ca0"/>
<rect x="56.51" y="311.00" width="9.76" height="14.12" fill="#c5849d"/>
<rect x="65.06" y="311.00" width="9.76" height="14.12" fill="#c4829c"/>
<rect x="73.62" y="311.00" width="139.38" height="14.12" fill="#c3819c"/>
</g>
<defs><mask id="m19" maskUnits="userSpaceOnUse" x="35.40" y="320.62" width="179.10" height="10.82"><rect x="36.40" y="321.62" width="177.10" height="8.82" fill="#fff"/></mask></defs>
<g mask="url(#m19)">
<rect x="36.90" y="318.62" width="12.26" height="14.12" fill="#d59aa7"/>
<rect x="47.95" y="318.62" width="9.76" height="14.12" fill="#cc8da1"/>
<rect x="56.51" y="318.62" width="9.76" height="14.12" fill="#c6859d"/>
<rect x="65.06" y="318.62" width="9.76" height="14.12" fill="#c4829c"/>
<rect x="73.62" y="318.62" width="139.38" height="14.12" fill="#c3819c"/>
</g>
<defs><mask id="m20" maskUnits="userSpaceOnUse" x="35.40" y="328.24" width="179.10" height="10.82"><rect x="36.40" y="329.24" width="177.10" height="8.82" fill="#fff"/></mask></defs>
<g mask="url(#m20)">
<rect x="36.90" y="326.24" width="12.26" height="14.12" fill="#d59ba8"/>
<rect x="47.95" y="326.24" width="9.76" height="14.12" fill="#cc8da1"/>
<rect x="56.51" y="326.24" width="9.76" height="14.12" fill="#c7869e"/>
<rect x="65.06" y="326.24" width="9.76" height="14.12" fill="#c4829c"/>
<rect x="73.62" y="326.24" width="139.38" height="14.12" fill="#c3819c"/>
</g>
<defs><mask id="m21" maskUnits="userSpaceOnUse" x="35.40" y="335.86" width="179.10" height="10.82"><rect x="36.40" y="336.86" width="177.10" height="8.82" fill="#fff"/></mask></defs>
<g mask="url(#m21)">
<rect x="36.90" y="333.86" width="12.26" height="14.12" fill="#d59ba8"/>
<rect x="47.95" y="333.86" width="9.76" height="14.12" fill="#cc8da1"/>
<rect x="56.51" y="333.86" width="9.76" height="14.12" fill="#c7869e"/>
<rect x="65.06" y="333.86" width="9.76" height="14.12" fill="#c5849d"/>
<rect x="73.62" y="333.86" width="139.38" height="14.12" fill="#c3819c"/>
</g>
<defs><mask id="m22" maskUnits="userSpaceOnUse" x="35.40" y="343.48" width="179.10" height="10.82"><rect x="36.40" y="344.48" width="177.10" height="8.82" fill="#fff"/></mask></defs>
<g mask="url(#m22)">
<rect x="36.90" y="341.48" width="12.26" height="14.12" fill="#d69ca8"/>
<rect x="47.95" y="341.48" width="9.76" height="14.12" fill="#cd8ea1"/>
<rect x="56.51" y="341.48" width="9.76" height="14.12" fill="#c8879e"/>
<rect x="65.06" y="341.48" width="9.76" height="14.12" fill="#c5849d"/>
<rect x="73.62" y="341.48" width="139.38" height="14.12" fill="#c3819c"/>
</g>
<defs><mask id="m23" maskUnits="userSpaceOnUse" x="35.40" y="351.10" width="179.10" height="10.82"><rect x="36.40" y="352.10" width="177.10" height="8.82" fill="#fff"/></mask></defs>
<g mask="url(#m23)">
<rect x="36.90" y="349.10" width="12.26" height="14.12" fill="#d79ea9"/>
<rect x="47.95" y="349.10" width="9.76" height="14.12" fill="#ce8fa2"/>
<rect x="56.51" y="349.10" width="9.76" height="14.12" fill="#c8879e"/>
<rect x="65.06" y="349.10" width="9.76" height="14.12" fill="#c5849d"/>
<rect x="73.62" y="349.10" width="139.38" height="14.12" fill="#c3819c"/>
</g>
<defs><mask id="m24" maskUnits="userSpaceOnUse" x="35.40" y="358.72" width="179.10" height="10.82"><rect x="36.40" y="359.72" width="177.10" height="8.82" fill="#fff"/></mask></defs>
<g mask="url(#m24)">
<rect x="36.90" y="356.72" width="12.26" height="14.12" fill="#d89faa"/>
<rect x="47.95" y="356.72" width="9.76" height="14.12" fill="#ce8fa2"/>
<rect x="56.51" y="356.72" width="9.76" height="14.12" fill="#c9889f"/>
<rect x="65.06" y="356.72" width="9.76" height="14.12" fill="#c5849d"/>
<rect x="73.62" y="356.72" width="139.38" height="14.12" fill="#c3819c"/>
</g>
<defs><mask id="m25" maskUnits="userSpaceOnUse" x="35.40" y="366.34" width="179.10" height="10.82"><rect x="36.40" y="367.34" width="177.10" height="8.82" fill="#fff"/></mask></defs>
<g mask="url(#m25)">
<rect x="36.90" y="364.34" width="12.26" height="14.12" fill="#d8a0aa"/>
<rect x="47.95" y="364.34" width="9.76" height="14.12" fill="#cf90a2"/>
<rect x="56.51" y="364.34" width="9.76" height="14.12" fill="#c9889f"/>
<rect x="65.06" y="364.34" width="9.76" height="14.12" fill="#c5849d"/>
<rect x="73.62" y="364.34" width="9.75" height="14.12" fill="#c4829c"/>
<rect x="82.17" y="364.34" width="130.82" height="14.12" fill="#c3819c"/>
</g>
<defs><mask id="m26" maskUnits="userSpaceOnUse" x="35.40" y="373.96" width="179.10" height="10.82"><rect x="36.40" y="374.96" width="177.10" height="8.82" fill="#fff"/></mask></defs>
<g mask="url(#m26)">
<rect x="36.90" y="371.96" width="12.26" height="14.12" fill="#d8a0aa"/>
<rect x="47.95" y="371.96" width="9.76" height="14.12" fill="#cf91a3"/>
<rect x="56.51" y="371.96" width="9.76" height="14.12" fill="#c9889f"/>
<rect x="65.06" y="371.96" width="9.76" height="14.12" fill="#c5849d"/>
<rect x="73.62" y="371.96" width="9.75" height="14.12" fill="#c4829c"/>
<rect x="82.17" y="371.96" width="130.82" height="14.12" fill="#c3819c"/>
</g>
<defs><mask id="m27" maskUnits="userSpaceOnUse" x="35.40" y="381.58" width="179.10" height="10.82"><rect x="36.40" y="382.58" width="177.10" height="8.82" fill="#fff"/></mask></defs>
<g mask="url(#m27)">
<rect x="36.90" y="379.58" width="12.26" height="14.12" fill="#d9a1ab"/>
<rect x="47.95" y="379.58" width="9.76" height="14.12" fill="#cf91a3"/>
<rect x="56.51" y="379.58" width="9.76" height="14.12" fill="#ca899f"/>
<rect x="65.06" y="379.58" width="9.76" height="14.12" fill="#c5849d"/>
<rect x="73.62" y="379.58" width="9.75" height="14.12" fill="#c4829c"/>
<rect x="82.17" y="379.58" width="130.82" height="14.12" fill="#c3819c"/>
</g>
<defs><mask id="m28" maskUnits="userSpaceOnUse" x="35.40" y="389.20" width="179.10" height="10.82"><rect x="36.40" y="390.20" width="177.10" height="8.82" fill="#fff"/></mask></defs>
<g mask="url(#m28)">
<rect x="36.90" y="387.20" width="12.26" height="14.12" fill="#dba5ad"/>
<rect x="47.95" y="387.20" width="9.76" height="14.12" fill="#d295a5"/>
<rect x="56.51" y="387.20" width="9.76" height="14.12" fill="#cb8ca0"/>
<rect x="65.06" y="387.20" width="9.76" height="14.12" fill="#c7869e"/>
<rect x="73.62" y="387.20" width="9.75" height="14.12" fill="#c5849d"/>
<rect x="82.17" y="387.20" width="9.75" height="14.12" fill="#c4829c"/>
<rect x="90.73" y="387.20" width="122.27" height="14.12" fill="#c3819c"/>
</g>
<defs><mask id="m29" maskUnits="userSpaceOnUse" x="35.40" y="396.82" width="179.10" height="10.82"><rect x="36.40" y="397.82" width="177.10" height="8.82" fill="#fff"/></mask></defs>
<g mask="url(#m29)">
<rect x="36.90" y="394.82" width="12.26" height="14.12" fill="#ddaab0"/>
<rect x="47.95" y="394.82" width="9.76" height="14.12" fill="#d499a7"/>
<rect x="56.51" y="394.82" width="9.76" height="14.12" fill="#cd8ea1"/>
<rect x="65.06" y="394.82" width="9.76" height="14.12" fill="#c9889f"/>
<rect x="73.62" y="394.82" width="18.31" height="14.12" fill="#c5849d"/>
<rect x="90.73" y="394.82" width="9.76" height="14.12" fill="#c4829c"/>
<rect x="99.28" y="394.82" width="113.72" height="14.12" fill="#c3819c"/>
</g>
<defs><mask id="m30" maskUnits="userSpaceOnUse" x="35.40" y="404.44" width="179.10" height="10.82"><rect x="36.40" y="405.44" width="177.10" height="8.82" fill="#fff"/></mask></defs>
<g mask="url(#m30)">
<rect x="36.90" y="402.44" width="12.26" height="14.12" fill="#dfaeb2"/>
<rect x="47.95" y="402.44" width="9.76" height="14.12" fill="#d69ca8"/>
<rect x="56.51" y="402.44" width="9.76" height="14.12" fill="#cf90a2"/>
<rect x="65.06" y="402.44" width="9.76" height="14.12" fill="#ca899f"/>
<rect x="73.62" y="402.44" width="9.75" height="14.12" fill="#c7869e"/>
<rect x="82.17" y="402.44" width="9.75" height="14.12" fill="#c5849d"/>
<rect x="90.73" y="402.44" width="9.76" height="14.12" fill="#c4829c"/>
<rect x="99.28" y="402.44" width="113.72" height="14.12" fill="#c3819c"/>
</g>
<defs><mask id="m31" maskUnits="userSpaceOnUse" x="35.40" y="412.06" width="179.10" height="10.82"><rect x="36.40" y="413.06" width="177.10" height="8.82" fill="#fff"/></mask></defs>
<g mask="url(#m31)">
<rect x="36.90" y="410.06" width="12.26" height="14.12" fill="#e0b0b3"/>
<rect x="47.95" y="410.06" width="9.76" height="14.12" fill="#d8a0aa"/>
<rect x="56.51" y="410.06" width="9.76" height="14.12" fill="#d093a4"/>
<rect x="65.06" y="410.06" width="9.76" height="14.12" fill="#cb8ca0"/>
<rect x="73.62" y="410.06" width="9.75" height="14.12" fill="#c8879e"/>
<rect x="82.17" y="410.06" width="9.75" height="14.12" fill="#c6859d"/>
<rect x="90.73" y="410.06" width="9.76" height="14.12" fill="#c5849d"/>
<rect x="99.28" y="410.06" width="9.76" height="14.12" fill="#c4829c"/>
<rect x="107.84" y="410.06" width="105.16" height="14.12" fill="#c3819c"/>
</g>
<defs><mask id="m32" maskUnits="userSpaceOnUse" x="35.40" y="419.68" width="179.10" height="10.82"><rect x="36.40" y="420.68" width="177.10" height="8.82" fill="#fff"/></mask></defs>
<g mask="url(#m32)">
<rect x="36.90" y="417.68" width="12.26" height="14.12" fill="#e3b5b7"/>
<rect x="47.95" y="417.68" width="9.76" height="14.12" fill="#dba5ad"/>
<rect x="56.51" y="417.68" width="9.76" height="14.12" fill="#d295a5"/>
<rect x="65.06" y="417.68" width="9.76" height="14.12" fill="#cc8da1"/>
<rect x="73.62" y="417.68" width="9.75" height="14.12" fill="#c9889f"/>
<rect x="82.17" y="417.68" width="9.75" height="14.12" fill="#c7869e"/>
<rect x="90.73" y="417.68" width="9.76" height="14.12" fill="#c5849d"/>
<rect x="99.28" y="417.68" width="9.76" height="14.12" fill="#c4829c"/>
<rect x="107.84" y="417.68" width="105.16" height="14.12" fill="#c3819c"/>
</g>
<defs><mask id="m33" maskUnits="userSpaceOnUse" x="35.40" y="427.30" width="179.10" height="10.82"><rect x="36.40" y="428.30" width="177.10" height="8.82" fill="#fff"/></mask></defs>
<g mask="url(#m33)">
<rect x="36.90" y="425.30" width="12.26" height="14.12" fill="#e5bcbb"/>
<rect x="47.95" y="425.30" width="9.76" height="14.12" fill="#ddaab0"/>
<rect x="56.51" y="425.30" width="9.76" height="14.12" fill="#d499a7"/>
<rect x="65.06" y="425.30" width="9.76" height="14.12" fill="#ce8fa2"/>
<rect x="73.62" y="425.30" width="9.75" height="14.12" fill="#ca899f"/>
<rect x="82.17" y="425.30" width="9.75" height="14.12" fill="#c8879e"/>
<rect x="90.73" y="425.30" width="9.76" height="14.12" fill="#c5849d"/>
<rect x="99.28" y="425.30" width="9.76" height="14.12" fill="#c4829c"/>
<rect x="107.84" y="425.30" width="105.16" height="14.12" fill="#c3819c"/>
</g>
<defs><mask id="m34" maskUnits="userSpaceOnUse" x="35.40" y="434.92" width="179.10" height="10.82"><rect x="36.40" y="435.92" width="177.10" height="8.82" fill="#fff"/></mask></defs>
<g mask="url(#m34)">
<rect x="36.90" y="432.92" width="12.26" height="14.12" fill="#e7c1be"/>
<rect x="47.95" y="432.92" width="9.76" height="14.12" fill="#e0b0b3"/>
<rect x="56.51" y="432.92" width="9.76" height="14.12" fill="#d79ea9"/>
<rect x="65.06" y="432.92" width="9.76" height="14.12" fill="#d194a4"/>
<rect x="73.62" y="432.92" width="9.75" height="14.12" fill="#cd8ea1"/>
<rect x="82.17" y="432.92" width="9.75" height="14.12" fill="#cb8aa0"/>
<rect x="90.73" y="432.92" width="9.76" height="14.12" fill="#c8879e"/>
<rect x="99.28" y="432.92" width="9.76" height="14.12" fill="#c6859d"/>
<rect x="107.84" y="432.92" width="9.76" height="14.12" fill="#c5849d"/>
<rect x="116.40" y="432.92" width="9.75" height="14.12" fill="#c4829c"/>
<rect x="124.95" y="432.92" width="88.05" height="14.12" fill="#c3819c"/>
</g>
<defs><mask id="m35" maskUnits="userSpaceOnUse" x="35.40" y="442.54" width="179.10" height="10.82"><rect x="36.40" y="443.54" width="177.10" height="8.82" fill="#fff"/></mask></defs>
<g mask="url(#m35)">
<rect x="36.90" y="440.54" width="12.26" height="14.12" fill="#e8c3c0"/>
<rect x="47.95" y="440.54" width="9.76" height="14.12" fill="#e3b6b7"/>
<rect x="56.51" y="440.54" width="9.76" height="14.12" fill="#dba5ad"/>
<rect x="65.06" y="440.54" width="9.76" height="14.12" fill="#d69ca8"/>
<rect x="73.62" y="440.54" width="9.75" height="14.12" fill="#d295a5"/>
<rect x="82.17" y="440.54" width="9.75" height="14.12" fill="#cf91a3"/>
<rect x="90.73" y="440.54" width="9.76" height="14.12" fill="#cc8da1"/>
<rect x="99.28" y="440.54" width="9.76" height="14.12" fill="#ca899f"/>
<rect x="107.84" y="440.54" width="9.76" height="14.12" fill="#c8879e"/>
<rect x="116.40" y="440.54" width="9.75" height="14.12" fill="#c6859d"/>
<rect x="124.95" y="440.54" width="9.75" height="14.12" fill="#c5849d"/>
<rect x="133.50" y="440.54" width="9.75" height="14.12" fill="#c4829c"/>
<rect x="142.06" y="440.54" width="70.94" height="14.12" fill="#c3819c"/>
</g>
<defs><mask id="m36" maskUnits="userSpaceOnUse" x="35.40" y="450.16" width="179.10" height="10.82"><rect x="36.40" y="451.16" width="177.10" height="8.82" fill="#fff"/></mask></defs>
<g mask="url(#m36)">
<rect x="36.90" y="448.16" width="12.26" height="14.12" fill="#e9c6c2"/>
<rect x="47.95" y="448.16" width="9.76" height="14.12" fill="#e6bdbc"/>
<rect x="56.51" y="448.16" width="9.76" height="14.12" fill="#e0afb3"/>
<rect x="65.06" y="448.16" width="9.76" height="14.12" fill="#dda9af"/>
<rect x="73.62" y="448.16" width="9.75" height="14.12" fill="#d9a1ab"/>
<rect x="82.17" y="448.16" width="9.75" height="14.12" fill="#d59ba8"/>
<rect x="90.73" y="448.16" width="9.76" height="14.12" fill="#d396a5"/>
<rect x="99.28" y="448.16" width="9.76" height="14.12" fill="#d093a4"/>
<rect x="107.84" y="448.16" width="9.76" height="14.12" fill="#ce8fa2"/>
<rect x="116.40" y="448.16" width="9.75" height="14.12" fill="#cc8da1"/>
<rect x="124.95" y="448.16" width="9.75" height="14.12" fill="#ca899f"/>
<rect x="133.50" y="448.16" width="9.75" height="14.12" fill="#c9889f"/>
<rect x="142.06" y="448.16" width="9.75" height="14.12" fill="#c7869e"/>
<rect x="150.62" y="448.16" width="9.75" height="14.12" fill="#c5849d"/>
<rect x="159.17" y="448.16" width="18.31" height="14.12" fill="#c4829c"/>
<rect x="176.28" y="448.16" width="36.72" height="14.12" fill="#c3819c"/>
</g>
<defs><mask id="m37" maskUnits="userSpaceOnUse" x="35.40" y="457.78" width="179.10" height="12.62"><rect x="36.40" y="458.78" width="177.10" height="10.62" fill="#fff"/></mask></defs>
<g mask="url(#m37)">
<rect x="36.90" y="455.78" width="12.26" height="14.12" fill="#ebcac5"/>
<rect x="47.95" y="455.78" width="9.76" height="14.12" fill="#e9c6c2"/>
<rect x="56.51" y="455.78" width="9.76" height="14.12" fill="#e7c1be"/>
<rect x="65.06" y="455.78" width="9.76" height="14.12" fill="#e5bcbb"/>
<rect x="73.62" y="455.78" width="9.75" height="14.12" fill="#e4b8b8"/>
<rect x="82.17" y="455.78" width="9.75" height="14.12" fill="#e1b1b4"/>
<rect x="90.73" y="455.78" width="9.76" height="14.12" fill="#deabb0"/>
<rect x="99.28" y="455.78" width="9.76" height="14.12" fill="#dca6ae"/>
<rect x="107.84" y="455.78" width="9.76" height="14.12" fill="#d9a1ab"/>
<rect x="116.40" y="455.78" width="9.75" height="14.12" fill="#d69ca8"/>
<rect x="124.95" y="455.78" width="9.75" height="14.12" fill="#d397a6"/>
<rect x="133.50" y="455.78" width="9.75" height="14.12" fill="#d194a4"/>
<rect x="142.06" y="455.78" width="9.75" height="14.12" fill="#cf90a2"/>
<rect x="150.62" y="455.78" width="9.75" height="14.12" fill="#cc8da1"/>
<rect x="159.17" y="455.78" width="9.75" height="14.12" fill="#cb8aa0"/>
<rect x="167.72" y="455.78" width="9.75" height="14.12" fill="#c9889f"/>
<rect x="176.28" y="455.78" width="26.86" height="14.12" fill="#c5849d"/>
<rect x="201.94" y="455.78" width="11.06" height="14.12" fill="#c4829c"/>
</g>
</g>
<text x="124.80" y="310.40" font-size="6.9" text-anchor="middle" fill="#222" stroke="#222" stroke-width="0.15" textLength="34.2" lengthAdjust="spacingAndGlyphs">Power-law</text>
<text x="46.60" y="477.60" font-size="11.4" text-anchor="start" fill="#111" stroke="#111" stroke-width="0.25" textLength="23.9" lengthAdjust="spacingAndGlyphs">0.05</text>
<text x="82.60" y="477.60" font-size="11.4" text-anchor="start" fill="#111" stroke="#111" stroke-width="0.25" textLength="76.1" lengthAdjust="spacingAndGlyphs">Bait coverage</text>
<text x="163.30" y="477.60" font-size="11.4" text-anchor="start" fill="#111" stroke="#111" stroke-width="0.25" textLength="20.2" lengthAdjust="spacingAndGlyphs">---&gt;</text>
<text x="196.20" y="477.60" font-size="11.4" text-anchor="start" fill="#111" stroke="#111" stroke-width="0.25" textLength="5.4" lengthAdjust="spacingAndGlyphs">1</text>
<text x="35.00" y="463.90" font-size="11.4" text-anchor="start" fill="#111" stroke="#111" stroke-width="0.25" textLength="146.3" lengthAdjust="spacingAndGlyphs" transform="rotate(-90 35.00 463.90)">0.05 Edge coverage ---&gt; 1</text>
<defs><linearGradient id="g38" x1="0" y1="0" x2="0" y2="1"><stop offset="0.0000" stop-color="#2d1e3e"/><stop offset="0.0417" stop-color="#382449"/><stop offset="0.0833" stop-color="#452b54"/><stop offset="0.1250" stop-color="#50305d"/><stop offset="0.1667" stop-color="#5e3767"/><stop offset="0.2083" stop-color="#693d6f"/><stop offset="0.2500" stop-color="#754475"/><stop offset="0.2917" stop-color="#824b7c"/><stop offset="0.3333" stop-color="#8e5383"/><stop offset="0.3750" stop-color="#995a88"/><stop offset="0.4167" stop-color="#a4638d"/><stop offset="0.4583" stop-color="#af6c91"/><stop offset="0.5000" stop-color="#b77495"/><stop offset="0.5417" stop-color="#c17e9a"/><stop offset="0.5833" stop-color="#c9889f"/><stop offset="0.6250" stop-color="#cf91a3"/><stop offset="0.6667" stop-color="#d59ba8"/><stop offset="0.7083" stop-color="#dca6ae"/><stop offset="0.7500" stop-color="#e0b0b3"/><stop offset="0.7917" stop-color="#e5bcbb"/><stop offset="0.8333" stop-color="#eac7c3"/><stop offset="0.8750" stop-color="#edd1cb"/><stop offset="0.9167" stop-color="#f1dcd6"/><stop offset="0.9583" stop-color="#f5e8e1"/><stop offset="1.0000" stop-color="#f9f1ec"/></linearGradient></defs>
<rect x="221.40" y="314.20" width="7.80" height="152.30" fill="url(#g38)"/>
<rect x="229.20" y="466.25" width="1.40" height="0.50" fill="#333"/>
<text x="233.00" y="468.30" font-size="5.4" text-anchor="start" fill="#222" stroke="#222" stroke-width="0.12" textLength="7.8" lengthAdjust="spacingAndGlyphs">0.0</text>
<rect x="229.20" y="435.79" width="1.40" height="0.50" fill="#333"/>
<text x="233.00" y="437.84" font-size="5.4" text-anchor="start" fill="#222" stroke="#222" stroke-width="0.12" textLength="7.8" lengthAdjust="spacingAndGlyphs">0.2</text>
<rect x="229.20" y="405.33" width="1.40" height="0.50" fill="#333"/>
<text x="233.00" y="407.38" font-size="5.4" text-anchor="start" fill="#222" stroke="#222" stroke-width="0.12" textLength="7.8" lengthAdjust="spacingAndGlyphs">0.4</text>
<rect x="229.20" y="374.87" width="1.40" height="0.50" fill="#333"/>
<text x="233.00" y="376.92" font-size="5.4" text-anchor="start" fill="#222" stroke="#222" stroke-width="0.12" textLength="7.8" lengthAdjust="spacingAndGlyphs">0.6</text>
<rect x="229.20" y="344.41" width="1.40" height="0.50" fill="#333"/>
<text x="233.00" y="346.46" font-size="5.4" text-anchor="start" fill="#222" stroke="#222" stroke-width="0.12" textLength="7.8" lengthAdjust="spacingAndGlyphs">0.8</text>
<rect x="229.20" y="313.95" width="1.40" height="0.50" fill="#333"/>
<text x="233.00" y="316.00" font-size="5.4" text-anchor="start" fill="#222" stroke="#222" stroke-width="0.12" textLength="7.8" lengthAdjust="spacingAndGlyphs">1.0</text>
<text x="248.30" y="390.35" font-size="5.4" text-anchor="middle" fill="#222" stroke="#222" stroke-width="0.12" textLength="13.8" lengthAdjust="spacingAndGlyphs" transform="rotate(-90 248.30 390.35)">KS_D</text>
<text x="4.60" y="284.30" font-size="26.6" text-anchor="start" fill="#000" stroke="#000" stroke-width="0.59" textLength="13.0" lengthAdjust="spacingAndGlyphs">c</text>
<defs><mask id="m39" maskUnits="userSpaceOnUse" x="295.40" y="312.90" width="173.20" height="154.30"><rect x="296.40" y="313.90" width="171.20" height="152.30" fill="#fff"/></mask></defs>
<g mask="url(#m39)">
<defs><mask id="m40" maskUnits="userSpaceOnUse" x="292.40" y="309.90" width="179.20" height="13.81"><rect x="293.40" y="310.90" width="177.20" height="11.81" fill="#fff"/></mask></defs>
<g mask="url(#m40)">
<rect x="293.90" y="310.90" width="12.26" height="14.12" fill="#f3e1db"/>
<rect x="304.96" y="310.90" width="9.76" height="14.12" fill="#f5e8e1"/>
<rect x="313.52" y="310.90" width="35.44" height="14.12" fill="#f6eae4"/>
<rect x="347.76" y="310.90" width="122.34" height="14.12" fill="#f8efe9"/>
</g>
<defs><mask id="m41" maskUnits="userSpaceOnUse" x="292.40" y="320.51" width="179.20" height="10.81"><rect x="293.40" y="321.51" width="177.20" height="8.81" fill="#fff"/></mask></defs>
<g mask="url(#m41)">
<rect x="293.90" y="318.51" width="12.26" height="14.12" fill="#f3e1db"/>
<rect x="304.96" y="318.51" width="9.76" height="14.12" fill="#f5e8e1"/>
<rect x="313.52" y="318.51" width="35.44" height="14.12" fill="#f6eae4"/>
<rect x="347.76" y="318.51" width="122.34" height="14.12" fill="#f8efe9"/>
</g>
<defs><mask id="m42" maskUnits="userSpaceOnUse" x="292.40" y="328.13" width="179.20" height="10.81"><rect x="293.40" y="329.13" width="177.20" height="8.81" fill="#fff"/></mask></defs>
<g mask="url(#m42)">
<rect x="293.90" y="326.13" width="12.26" height="14.12" fill="#f3e1db"/>
<rect x="304.96" y="326.13" width="9.76" height="14.12" fill="#f5e8e1"/>
<rect x="313.52" y="326.13" width="35.44" height="14.12" fill="#f6eae4"/>
<rect x="347.76" y="326.13" width="122.34" height="14.12" fill="#f8efe9"/>
</g>
<defs><mask id="m43" maskUnits="userSpaceOnUse" x="292.40" y="335.75" width="179.20" height="10.81"><rect x="293.40" y="336.75" width="177.20" height="8.81" fill="#fff"/></mask></defs>
<g mask="url(#m43)">
<rect x="293.90" y="333.75" width="12.26" height="14.12" fill="#f3e1db"/>
<rect x="304.96" y="333.75" width="9.76" height="14.12" fill="#f5e8e1"/>
<rect x="313.52" y="333.75" width="35.44" height="14.12" fill="#f6eae4"/>
<rect x="347.76" y="333.75" width="122.34" height="14.12" fill="#f8efe9"/>
</g>
<defs><mask id="m44" maskUnits="userSpaceOnUse" x="292.40" y="343.36" width="179.20" height="10.81"><rect x="293.40" y="344.36" width="177.20" height="8.81" fill="#fff"/></mask></defs>
<g mask="url(#m44)">
<rect x="293.90" y="341.36" width="12.26" height="14.11" fill="#f3e1db"/>
<rect x="304.96" y="341.36" width="9.76" height="14.11" fill="#f5e8e1"/>
<rect x="313.52" y="341.36" width="44.00" height="14.11" fill="#f6eae4"/>
<rect x="356.32" y="341.36" width="113.78" height="14.11" fill="#f8efe9"/>
</g>
<defs><mask id="m45" maskUnits="userSpaceOnUse" x="292.40" y="350.97" width="179.20" height="10.81"><rect x="293.40" y="351.97" width="177.20" height="8.81" fill="#fff"/></mask></defs>
<g mask="url(#m45)">
<rect x="293.90" y="348.97" width="12.26" height="14.12" fill="#f3e1db"/>
<rect x="304.96" y="348.97" width="9.76" height="14.12" fill="#f5e8e1"/>
<rect x="313.52" y="348.97" width="44.00" height="14.12" fill="#f6eae4"/>
<rect x="356.32" y="348.97" width="113.78" height="14.12" fill="#f8efe9"/>
</g>
<defs><mask id="m46" maskUnits="userSpaceOnUse" x="292.40" y="358.59" width="179.20" height="10.81"><rect x="293.40" y="359.59" width="177.20" height="8.81" fill="#fff"/></mask></defs>
<g mask="url(#m46)">
<rect x="293.90" y="356.59" width="12.26" height="14.12" fill="#f3e1db"/>
<rect x="304.96" y="356.59" width="9.76" height="14.12" fill="#f5e8e1"/>
<rect x="313.52" y="356.59" width="44.00" height="14.12" fill="#f6eae4"/>
<rect x="356.32" y="356.59" width="113.78" height="14.12" fill="#f8efe9"/>
</g>
<defs><mask id="m47" maskUnits="userSpaceOnUse" x="292.40" y="366.20" width="179.20" height="10.81"><rect x="293.40" y="367.20" width="177.20" height="8.81" fill="#fff"/></mask></defs>
<g mask="url(#m47)">
<rect x="293.90" y="364.20" width="12.26" height="14.12" fill="#f3e1db"/>
<rect x="304.96" y="364.20" width="9.76" height="14.12" fill="#f5e8e1"/>
<rect x="313.52" y="364.20" width="44.00" height="14.12" fill="#f6eae4"/>
<rect x="356.32" y="364.20" width="113.78" height="14.12" fill="#f8efe9"/>
</g>
<defs><mask id="m48" maskUnits="userSpaceOnUse" x="292.40" y="373.82" width="179.20" height="10.81"><rect x="293.40" y="374.82" width="177.20" height="8.81" fill="#fff"/></mask></defs>
<g mask="url(#m48)">
<rect x="293.90" y="371.82" width="12.26" height="14.12" fill="#f3e1db"/>
<rect x="304.96" y="371.82" width="9.76" height="14.12" fill="#f5e8e1"/>
<rect x="313.52" y="371.82" width="52.56" height="14.12" fill="#f6eae4"/>
<rect x="364.88" y="371.82" width="105.22" height="14.12" fill="#f8efe9"/>
</g>
<defs><mask id="m49" maskUnits="userSpaceOnUse" x="292.40" y="381.44" width="179.20" height="10.81"><rect x="293.40" y="382.44" width="177.20" height="8.81" fill="#fff"/></mask></defs>
<g mask="url(#m49)">
<rect x="293.90" y="379.44" width="12.26" height="14.11" fill="#f3e1db"/>
<rect x="304.96" y="379.44" width="9.76" height="14.11" fill="#f5e8e1"/>
<rect x="313.52" y="379.44" width="52.56" height="14.11" fill="#f6eae4"/>
<rect x="364.88" y="379.44" width="105.22" height="14.11" fill="#f8efe9"/>
</g>
<defs><mask id="m50" maskUnits="userSpaceOnUse" x="292.40" y="389.05" width="179.20" height="10.81"><rect x="293.40" y="390.05" width="177.20" height="8.81" fill="#fff"/></mask></defs>
<g mask="url(#m50)">
<rect x="293.90" y="387.05" width="12.26" height="14.12" fill="#f3e1db"/>
<rect x="304.96" y="387.05" width="9.76" height="14.12" fill="#f5e8e1"/>
<rect x="313.52" y="387.05" width="61.12" height="14.12" fill="#f6eae4"/>
<rect x="373.44" y="387.05" width="96.66" height="14.12" fill="#f8efe9"/>
</g>
<defs><mask id="m51" maskUnits="userSpaceOnUse" x="292.40" y="396.66" width="179.20" height="10.81"><rect x="293.40" y="397.66" width="177.20" height="8.81" fill="#fff"/></mask></defs>
<g mask="url(#m51)">
<rect x="293.90" y="394.66" width="12.26" height="14.12" fill="#f3e1db"/>
<rect x="304.96" y="394.66" width="9.76" height="14.12" fill="#f5e8e1"/>
<rect x="313.52" y="394.66" width="61.12" height="14.12" fill="#f6eae4"/>
<rect x="373.44" y="394.66" width="96.66" height="14.12" fill="#f8efe9"/>
</g>
<defs><mask id="m52" maskUnits="userSpaceOnUse" x="292.40" y="404.28" width="179.20" height="10.81"><rect x="293.40" y="405.28" width="177.20" height="8.81" fill="#fff"/></mask></defs>
<g mask="url(#m52)">
<rect x="293.90" y="402.28" width="12.26" height="14.12" fill="#f3e1db"/>
<rect x="304.96" y="402.28" width="9.76" height="14.12" fill="#f5e8e1"/>
<rect x="313.52" y="402.28" width="69.68" height="14.12" fill="#f6eae4"/>
<rect x="382.00" y="402.28" width="88.10" height="14.12" fill="#f8efe9"/>
</g>
<defs><mask id="m53" maskUnits="userSpaceOnUse" x="292.40" y="411.89" width="179.20" height="10.81"><rect x="293.40" y="412.89" width="177.20" height="8.81" fill="#fff"/></mask></defs>
<g mask="url(#m53)">
<rect x="293.90" y="409.89" width="12.26" height="14.12" fill="#f1dcd6"/>
<rect x="304.96" y="409.89" width="9.76" height="14.12" fill="#f5e8e1"/>
<rect x="313.52" y="409.89" width="69.68" height="14.12" fill="#f6eae4"/>
<rect x="382.00" y="409.89" width="88.10" height="14.12" fill="#f8efe9"/>
</g>
<defs><mask id="m54" maskUnits="userSpaceOnUse" x="292.40" y="419.51" width="179.20" height="10.81"><rect x="293.40" y="420.51" width="177.20" height="8.81" fill="#fff"/></mask></defs>
<g mask="url(#m54)">
<rect x="293.90" y="417.51" width="12.26" height="14.12" fill="#f1dcd6"/>
<rect x="304.96" y="417.51" width="9.76" height="14.12" fill="#f5e8e1"/>
<rect x="313.52" y="417.51" width="78.24" height="14.12" fill="#f6eae4"/>
<rect x="390.56" y="417.51" width="79.54" height="14.12" fill="#f8efe9"/>
</g>
<defs><mask id="m55" maskUnits="userSpaceOnUse" x="292.40" y="427.12" width="179.20" height="10.81"><rect x="293.40" y="428.12" width="177.20" height="8.81" fill="#fff"/></mask></defs>
<g mask="url(#m55)">
<rect x="293.90" y="425.12" width="12.26" height="14.12" fill="#efd5cf"/>
<rect x="304.96" y="425.12" width="9.76" height="14.12" fill="#f5e8e1"/>
<rect x="313.52" y="425.12" width="78.24" height="14.12" fill="#f6eae4"/>
<rect x="390.56" y="425.12" width="79.54" height="14.12" fill="#f8efe9"/>
</g>
<defs><mask id="m56" maskUnits="userSpaceOnUse" x="292.40" y="434.74" width="179.20" height="10.81"><rect x="293.40" y="435.74" width="177.20" height="8.81" fill="#fff"/></mask></defs>
<g mask="url(#m56)">
<rect x="293.90" y="432.74" width="12.26" height="14.12" fill="#efd5cf"/>
<rect x="304.96" y="432.74" width="9.76" height="14.12" fill="#f5e8e1"/>
<rect x="313.52" y="432.74" width="86.80" height="14.12" fill="#f6eae4"/>
<rect x="399.12" y="432.74" width="70.98" height="14.12" fill="#f8efe9"/>
</g>
<defs><mask id="m57" maskUnits="userSpaceOnUse" x="292.40" y="442.36" width="179.20" height="10.81"><rect x="293.40" y="443.36" width="177.20" height="8.81" fill="#fff"/></mask></defs>
<g mask="url(#m57)">
<rect x="293.90" y="440.36" width="12.26" height="14.11" fill="#efd5cf"/>
<rect x="304.96" y="440.36" width="9.76" height="14.11" fill="#f5e8e1"/>
<rect x="313.52" y="440.36" width="95.36" height="14.11" fill="#f6eae4"/>
<rect x="407.68" y="440.36" width="62.42" height="14.11" fill="#f8efe9"/>
</g>
<defs><mask id="m58" maskUnits="userSpaceOnUse" x="292.40" y="449.97" width="179.20" height="10.81"><rect x="293.40" y="450.97" width="177.20" height="8.81" fill="#fff"/></mask></defs>
<g mask="url(#m58)">
<rect x="293.90" y="447.97" width="12.26" height="14.12" fill="#f6e9e2"/>
<rect x="304.96" y="447.97" width="121.04" height="14.12" fill="#f7ece7"/>
<rect x="424.80" y="447.97" width="45.30" height="14.12" fill="#f8efe9"/>
</g>
<defs><mask id="m59" maskUnits="userSpaceOnUse" x="292.40" y="457.58" width="179.20" height="12.62"><rect x="293.40" y="458.58" width="177.20" height="10.62" fill="#fff"/></mask></defs>
<g mask="url(#m59)">
<rect x="293.90" y="455.58" width="12.26" height="14.12" fill="#f6e9e2"/>
<rect x="304.96" y="455.58" width="165.14" height="14.12" fill="#f8efe9"/>
</g>
</g>
<text x="382.20" y="310.40" font-size="6.9" text-anchor="middle" fill="#222" stroke="#222" stroke-width="0.15" textLength="25.0" lengthAdjust="spacingAndGlyphs">Poisson</text>
<text x="303.50" y="477.60" font-size="11.4" text-anchor="start" fill="#111" stroke="#111" stroke-width="0.25" textLength="23.9" lengthAdjust="spacingAndGlyphs">0.05</text>
<text x="339.50" y="477.60" font-size="11.4" text-anchor="start" fill="#111" stroke="#111" stroke-width="0.25" textLength="76.1" lengthAdjust="spacingAndGlyphs">Bait coverage</text>
<text x="420.20" y="477.60" font-size="11.4" text-anchor="start" fill="#111" stroke="#111" stroke-width="0.25" textLength="20.2" lengthAdjust="spacingAndGlyphs">---&gt;</text>
<text x="453.10" y="477.60" font-size="11.4" text-anchor="start" fill="#111" stroke="#111" stroke-width="0.25" textLength="5.4" lengthAdjust="spacingAndGlyphs">1</text>
<text x="292.20" y="463.60" font-size="11.4" text-anchor="start" fill="#111" stroke="#111" stroke-width="0.25" textLength="146.3" lengthAdjust="spacingAndGlyphs" transform="rotate(-90 292.20 463.60)">0.05 Edge coverage ---&gt; 1</text>
<defs><linearGradient id="g60" x1="0" y1="0" x2="0" y2="1"><stop offset="0.0000" stop-color="#2d1e3e"/><stop offset="0.0417" stop-color="#382449"/><stop offset="0.0833" stop-color="#452b54"/><stop offset="0.1250" stop-color="#50305d"/><stop offset="0.1667" stop-color="#5e3767"/><stop offset="0.2083" stop-color="#693d6f"/><stop offset="0.2500" stop-color="#754475"/><stop offset="0.2917" stop-color="#824b7c"/><stop offset="0.3333" stop-color="#8e5383"/><stop offset="0.3750" stop-color="#995a88"/><stop offset="0.4167" stop-color="#a4638d"/><stop offset="0.4583" stop-color="#af6c91"/><stop offset="0.5000" stop-color="#b77495"/><stop offset="0.5417" stop-color="#c17e9a"/><stop offset="0.5833" stop-color="#c9889f"/><stop offset="0.6250" stop-color="#cf91a3"/><stop offset="0.6667" stop-color="#d59ba8"/><stop offset="0.7083" stop-color="#dca6ae"/><stop offset="0.7500" stop-color="#e0b0b3"/><stop offset="0.7917" stop-color="#e5bcbb"/><stop offset="0.8333" stop-color="#eac7c3"/><stop offset="0.8750" stop-color="#edd1cb"/><stop offset="0.9167" stop-color="#f1dcd6"/><stop offset="0.9583" stop-color="#f5e8e1"/><stop offset="1.0000" stop-color="#f9f1ec"/></linearGradient></defs>
<rect x="478.70" y="314.20" width="7.60" height="152.00" fill="url(#g60)"/>
<rect x="486.30" y="465.95" width="1.40" height="0.50" fill="#333"/>
<text x="490.10" y="468.00" font-size="5.4" text-anchor="start" fill="#222" stroke="#222" stroke-width="0.12" textLength="7.8" lengthAdjust="spacingAndGlyphs">0.0</text>
<rect x="486.30" y="435.55" width="1.40" height="0.50" fill="#333"/>
<text x="490.10" y="437.60" font-size="5.4" text-anchor="start" fill="#222" stroke="#222" stroke-width="0.12" textLength="7.8" lengthAdjust="spacingAndGlyphs">0.2</text>
<rect x="486.30" y="405.15" width="1.40" height="0.50" fill="#333"/>
<text x="490.10" y="407.20" font-size="5.4" text-anchor="start" fill="#222" stroke="#222" stroke-width="0.12" textLength="7.8" lengthAdjust="spacingAndGlyphs">0.4</text>
<rect x="486.30" y="374.75" width="1.40" height="0.50" fill="#333"/>
<text x="490.10" y="376.80" font-size="5.4" text-anchor="start" fill="#222" stroke="#222" stroke-width="0.12" textLength="7.8" lengthAdjust="spacingAndGlyphs">0.6</text>
<rect x="486.30" y="344.35" width="1.40" height="0.50" fill="#333"/>
<text x="490.10" y="346.40" font-size="5.4" text-anchor="start" fill="#222" stroke="#222" stroke-width="0.12" textLength="7.8" lengthAdjust="spacingAndGlyphs">0.8</text>
<rect x="486.30" y="313.95" width="1.40" height="0.50" fill="#333"/>
<text x="490.10" y="316.00" font-size="5.4" text-anchor="start" fill="#222" stroke="#222" stroke-width="0.12" textLength="7.8" lengthAdjust="spacingAndGlyphs">1.0</text>
<text x="505.00" y="390.20" font-size="5.4" text-anchor="middle" fill="#222" stroke="#222" stroke-width="0.12" textLength="13.8" lengthAdjust="spacingAndGlyphs" transform="rotate(-90 505.00 390.20)">KS_D</text>
<text x="268.40" y="290.40" font-size="26.6" text-anchor="start" fill="#000" stroke="#000" stroke-width="0.59" textLength="14.6" lengthAdjust="spacingAndGlyphs">d</text>
<defs><mask id="m61" maskUnits="userSpaceOnUse" x="567.70" y="302.60" width="159.10" height="165.60"><rect x="568.70" y="303.60" width="157.10" height="163.60" fill="#fff"/></mask></defs>
<g mask="url(#m61)">
<defs><mask id="m62" maskUnits="userSpaceOnUse" x="564.70" y="299.60" width="165.10" height="14.38"><rect x="565.70" y="300.60" width="163.10" height="12.38" fill="#fff"/></mask></defs>
<g mask="url(#m62)">
<rect x="566.20" y="300.60" width="11.56" height="14.68" fill="#b77495"/>
<rect x="576.56" y="300.60" width="9.06" height="14.68" fill="#5b3665"/>
<rect x="584.41" y="300.60" width="9.05" height="14.68" fill="#422952"/>
<rect x="592.26" y="300.60" width="9.06" height="14.68" fill="#39254a"/>
<rect x="600.12" y="300.60" width="9.06" height="14.68" fill="#342245"/>
<rect x="607.98" y="300.60" width="120.32" height="14.68" fill="#2f2041"/>
</g>
<defs><mask id="m63" maskUnits="userSpaceOnUse" x="564.70" y="310.78" width="165.10" height="11.38"><rect x="565.70" y="311.78" width="163.10" height="9.38" fill="#fff"/></mask></defs>
<g mask="url(#m63)">
<rect x="566.20" y="308.78" width="11.56" height="14.68" fill="#b97596"/>
<rect x="576.56" y="308.78" width="9.06" height="14.68" fill="#5e3767"/>
<rect x="584.41" y="308.78" width="9.05" height="14.68" fill="#432a53"/>
<rect x="592.26" y="308.78" width="9.06" height="14.68" fill="#39254a"/>
<rect x="600.12" y="308.78" width="9.06" height="14.68" fill="#342245"/>
<rect x="607.98" y="308.78" width="9.06" height="14.68" fill="#312042"/>
<rect x="615.83" y="308.78" width="112.47" height="14.68" fill="#2f2041"/>
</g>
<defs><mask id="m64" maskUnits="userSpaceOnUse" x="564.70" y="318.96" width="165.10" height="11.38"><rect x="565.70" y="319.96" width="163.10" height="9.38" fill="#fff"/></mask></defs>
<g mask="url(#m64)">
<rect x="566.20" y="316.96" width="11.56" height="14.68" fill="#ba7696"/>
<rect x="576.56" y="316.96" width="9.06" height="14.68" fill="#5f3868"/>
<rect x="584.41" y="316.96" width="9.05" height="14.68" fill="#452b54"/>
<rect x="592.26" y="316.96" width="9.06" height="14.68" fill="#3b264b"/>
<rect x="600.12" y="316.96" width="9.06" height="14.68" fill="#352346"/>
<rect x="607.98" y="316.96" width="9.06" height="14.68" fill="#312042"/>
<rect x="615.83" y="316.96" width="112.47" height="14.68" fill="#2f2041"/>
</g>
<defs><mask id="m65" maskUnits="userSpaceOnUse" x="564.70" y="327.14" width="165.10" height="11.38"><rect x="565.70" y="328.14" width="163.10" height="9.38" fill="#fff"/></mask></defs>
<g mask="url(#m65)">
<rect x="566.20" y="325.14" width="11.56" height="14.68" fill="#ba7696"/>
<rect x="576.56" y="325.14" width="9.06" height="14.68" fill="#62396a"/>
<rect x="584.41" y="325.14" width="9.05" height="14.68" fill="#462b55"/>
<rect x="592.26" y="325.14" width="9.06" height="14.68" fill="#3b264b"/>
<rect x="600.12" y="325.14" width="9.06" height="14.68" fill="#352346"/>
<rect x="607.98" y="325.14" width="9.06" height="14.68" fill="#312042"/>
<rect x="615.83" y="325.14" width="112.47" height="14.68" fill="#2f2041"/>
</g>
<defs><mask id="m66" maskUnits="userSpaceOnUse" x="564.70" y="335.32" width="165.10" height="11.38"><rect x="565.70" y="336.32" width="163.10" height="9.38" fill="#fff"/></mask></defs>
<g mask="url(#m66)">
<rect x="566.20" y="333.32" width="11.56" height="14.68" fill="#bb7797"/>
<rect x="576.56" y="333.32" width="9.06" height="14.68" fill="#643a6b"/>
<rect x="584.41" y="333.32" width="9.05" height="14.68" fill="#462b55"/>
<rect x="592.26" y="333.32" width="9.06" height="14.68" fill="#3b264b"/>
<rect x="600.12" y="333.32" width="9.06" height="14.68" fill="#352346"/>
<rect x="607.98" y="333.32" width="9.06" height="14.68" fill="#322143"/>
<rect x="615.83" y="333.32" width="112.47" height="14.68" fill="#2f2041"/>
</g>
<defs><mask id="m67" maskUnits="userSpaceOnUse" x="564.70" y="343.50" width="165.10" height="11.38"><rect x="565.70" y="344.50" width="163.10" height="9.38" fill="#fff"/></mask></defs>
<g mask="url(#m67)">
<rect x="566.20" y="341.50" width="11.56" height="14.68" fill="#bd7a98"/>
<rect x="576.56" y="341.50" width="9.06" height="14.68" fill="#693d6f"/>
<rect x="584.41" y="341.50" width="9.05" height="14.68" fill="#492d58"/>
<rect x="592.26" y="341.50" width="9.06" height="14.68" fill="#3c264d"/>
<rect x="600.12" y="341.50" width="9.06" height="14.68" fill="#352346"/>
<rect x="607.98" y="341.50" width="9.06" height="14.68" fill="#322143"/>
<rect x="615.83" y="341.50" width="9.06" height="14.68" fill="#312042"/>
<rect x="623.69" y="341.50" width="104.61" height="14.68" fill="#2f2041"/>
</g>
<defs><mask id="m68" maskUnits="userSpaceOnUse" x="564.70" y="351.68" width="165.10" height="11.38"><rect x="565.70" y="352.68" width="163.10" height="9.38" fill="#fff"/></mask></defs>
<g mask="url(#m68)">
<rect x="566.20" y="349.68" width="11.56" height="14.68" fill="#bf7c99"/>
<rect x="576.56" y="349.68" width="9.06" height="14.68" fill="#6c3f70"/>
<rect x="584.41" y="349.68" width="9.05" height="14.68" fill="#4c2e5a"/>
<rect x="592.26" y="349.68" width="9.06" height="14.68" fill="#3d274e"/>
<rect x="600.12" y="349.68" width="9.06" height="14.68" fill="#362347"/>
<rect x="607.98" y="349.68" width="9.06" height="14.68" fill="#322143"/>
<rect x="615.83" y="349.68" width="16.91" height="14.68" fill="#312042"/>
<rect x="631.54" y="349.68" width="96.76" height="14.68" fill="#2f2041"/>
</g>
<defs><mask id="m69" maskUnits="userSpaceOnUse" x="564.70" y="359.86" width="165.10" height="11.38"><rect x="565.70" y="360.86" width="163.10" height="9.38" fill="#fff"/></mask></defs>
<g mask="url(#m69)">
<rect x="566.20" y="357.86" width="11.56" height="14.68" fill="#c17e9a"/>
<rect x="576.56" y="357.86" width="9.06" height="14.68" fill="#6f4172"/>
<rect x="584.41" y="357.86" width="9.05" height="14.68" fill="#4d2f5b"/>
<rect x="592.26" y="357.86" width="9.06" height="14.68" fill="#3f284f"/>
<rect x="600.12" y="357.86" width="9.06" height="14.68" fill="#382449"/>
<rect x="607.98" y="357.86" width="9.06" height="14.68" fill="#342245"/>
<rect x="615.83" y="357.86" width="9.06" height="14.68" fill="#322143"/>
<rect x="623.69" y="357.86" width="9.05" height="14.68" fill="#312042"/>
<rect x="631.54" y="357.86" width="96.76" height="14.68" fill="#2f2041"/>
</g>
<defs><mask id="m70" maskUnits="userSpaceOnUse" x="564.70" y="368.04" width="165.10" height="11.38"><rect x="565.70" y="369.04" width="163.10" height="9.38" fill="#fff"/></mask></defs>
<g mask="url(#m70)">
<rect x="566.20" y="366.04" width="11.56" height="14.68" fill="#c4829c"/>
<rect x="576.56" y="366.04" width="9.06" height="14.68" fill="#7b4779"/>
<rect x="584.41" y="366.04" width="9.05" height="14.68" fill="#553361"/>
<rect x="592.26" y="366.04" width="9.06" height="14.68" fill="#432a53"/>
<rect x="600.12" y="366.04" width="9.06" height="14.68" fill="#3b264b"/>
<rect x="607.98" y="366.04" width="9.06" height="14.68" fill="#352346"/>
<rect x="615.83" y="366.04" width="9.06" height="14.68" fill="#342245"/>
<rect x="623.69" y="366.04" width="9.05" height="14.68" fill="#322143"/>
<rect x="631.54" y="366.04" width="24.77" height="14.68" fill="#312042"/>
<rect x="655.11" y="366.04" width="73.19" height="14.68" fill="#2f2041"/>
</g>
<defs><mask id="m71" maskUnits="userSpaceOnUse" x="564.70" y="376.22" width="165.10" height="11.38"><rect x="565.70" y="377.22" width="163.10" height="9.38" fill="#fff"/></mask></defs>
<g mask="url(#m71)">
<rect x="566.20" y="374.22" width="11.56" height="14.68" fill="#c8879e"/>
<rect x="576.56" y="374.22" width="9.06" height="14.68" fill="#854d7e"/>
<rect x="584.41" y="374.22" width="9.05" height="14.68" fill="#5b3665"/>
<rect x="592.26" y="374.22" width="9.06" height="14.68" fill="#482c57"/>
<rect x="600.12" y="374.22" width="9.06" height="14.68" fill="#3d274e"/>
<rect x="607.98" y="374.22" width="9.06" height="14.68" fill="#382449"/>
<rect x="615.83" y="374.22" width="9.06" height="14.68" fill="#352346"/>
<rect x="623.69" y="374.22" width="9.05" height="14.68" fill="#342245"/>
<rect x="631.54" y="374.22" width="9.06" height="14.68" fill="#322143"/>
<rect x="639.39" y="374.22" width="24.77" height="14.68" fill="#312042"/>
<rect x="662.96" y="374.22" width="65.34" height="14.68" fill="#2f2041"/>
</g>
<defs><mask id="m72" maskUnits="userSpaceOnUse" x="564.70" y="384.40" width="165.10" height="11.38"><rect x="565.70" y="385.40" width="163.10" height="9.38" fill="#fff"/></mask></defs>
<g mask="url(#m72)">
<rect x="566.20" y="382.40" width="11.56" height="14.68" fill="#ce8fa2"/>
<rect x="576.56" y="382.40" width="9.06" height="14.68" fill="#915584"/>
<rect x="584.41" y="382.40" width="9.05" height="14.68" fill="#643a6b"/>
<rect x="592.26" y="382.40" width="9.06" height="14.68" fill="#4c2e5a"/>
<rect x="600.12" y="382.40" width="9.06" height="14.68" fill="#402850"/>
<rect x="607.98" y="382.40" width="9.06" height="14.68" fill="#3b264b"/>
<rect x="615.83" y="382.40" width="16.91" height="14.68" fill="#352346"/>
<rect x="631.54" y="382.40" width="9.06" height="14.68" fill="#342245"/>
<rect x="639.39" y="382.40" width="16.91" height="14.68" fill="#322143"/>
<rect x="655.11" y="382.40" width="9.06" height="14.68" fill="#312042"/>
<rect x="662.96" y="382.40" width="65.34" height="14.68" fill="#2f2041"/>
</g>
<defs><mask id="m73" maskUnits="userSpaceOnUse" x="564.70" y="392.58" width="165.10" height="11.38"><rect x="565.70" y="393.58" width="163.10" height="9.38" fill="#fff"/></mask></defs>
<g mask="url(#m73)">
<rect x="566.20" y="390.58" width="11.56" height="14.68" fill="#d397a6"/>
<rect x="576.56" y="390.58" width="9.06" height="14.68" fill="#9b5c89"/>
<rect x="584.41" y="390.58" width="9.05" height="14.68" fill="#6e4071"/>
<rect x="592.26" y="390.58" width="9.06" height="14.68" fill="#52315f"/>
<rect x="600.12" y="390.58" width="9.06" height="14.68" fill="#452b54"/>
<rect x="607.98" y="390.58" width="9.06" height="14.68" fill="#3d274e"/>
<rect x="615.83" y="390.58" width="9.06" height="14.68" fill="#39254a"/>
<rect x="623.69" y="390.58" width="9.05" height="14.68" fill="#362347"/>
<rect x="631.54" y="390.58" width="16.91" height="14.68" fill="#352346"/>
<rect x="647.25" y="390.58" width="9.06" height="14.68" fill="#342245"/>
<rect x="655.11" y="390.58" width="16.91" height="14.68" fill="#322143"/>
<rect x="670.81" y="390.58" width="24.77" height="14.68" fill="#312042"/>
<rect x="694.38" y="390.58" width="33.92" height="14.68" fill="#2f2041"/>
</g>
<defs><mask id="m74" maskUnits="userSpaceOnUse" x="564.70" y="400.76" width="165.10" height="11.38"><rect x="565.70" y="401.76" width="163.10" height="9.38" fill="#fff"/></mask></defs>
<g mask="url(#m74)">
<rect x="566.20" y="398.76" width="11.56" height="14.68" fill="#dca6ae"/>
<rect x="576.56" y="398.76" width="9.06" height="14.68" fill="#a8668e"/>
<rect x="584.41" y="398.76" width="9.05" height="14.68" fill="#7c4879"/>
<rect x="592.26" y="398.76" width="9.06" height="14.68" fill="#5e3767"/>
<rect x="600.12" y="398.76" width="9.06" height="14.68" fill="#4c2e5a"/>
<rect x="607.98" y="398.76" width="9.06" height="14.68" fill="#422952"/>
<rect x="615.83" y="398.76" width="9.06" height="14.68" fill="#3c264d"/>
<rect x="623.69" y="398.76" width="9.05" height="14.68" fill="#3b264b"/>
<rect x="631.54" y="398.76" width="9.06" height="14.68" fill="#382449"/>
<rect x="639.39" y="398.76" width="9.06" height="14.68" fill="#362347"/>
<rect x="647.25" y="398.76" width="16.91" height="14.68" fill="#352346"/>
<rect x="662.96" y="398.76" width="9.05" height="14.68" fill="#342245"/>
<rect x="670.81" y="398.76" width="16.91" height="14.68" fill="#322143"/>
<rect x="686.52" y="398.76" width="16.91" height="14.68" fill="#312042"/>
<rect x="702.23" y="398.76" width="26.07" height="14.68" fill="#2f2041"/>
</g>
<defs><mask id="m75" maskUnits="userSpaceOnUse" x="564.70" y="408.94" width="165.10" height="11.38"><rect x="565.70" y="409.94" width="163.10" height="9.38" fill="#fff"/></mask></defs>
<g mask="url(#m75)">
<rect x="566.20" y="406.94" width="11.56" height="14.68" fill="#e4b9b9"/>
<rect x="576.56" y="406.94" width="9.06" height="14.68" fill="#b77495"/>
<rect x="584.41" y="406.94" width="9.05" height="14.68" fill="#8a5081"/>
<rect x="592.26" y="406.94" width="9.06" height="14.68" fill="#6c3f70"/>
<rect x="600.12" y="406.94" width="9.06" height="14.68" fill="#583463"/>
<rect x="607.98" y="406.94" width="9.06" height="14.68" fill="#4b2e59"/>
<rect x="615.83" y="406.94" width="9.06" height="14.68" fill="#432a53"/>
<rect x="623.69" y="406.94" width="9.05" height="14.68" fill="#3f284f"/>
<rect x="631.54" y="406.94" width="9.06" height="14.68" fill="#3b264b"/>
<rect x="639.39" y="406.94" width="9.06" height="14.68" fill="#39254a"/>
<rect x="647.25" y="406.94" width="9.06" height="14.68" fill="#382449"/>
<rect x="655.11" y="406.94" width="16.91" height="14.68" fill="#352346"/>
<rect x="670.81" y="406.94" width="16.91" height="14.68" fill="#342245"/>
<rect x="686.52" y="406.94" width="9.06" height="14.68" fill="#322143"/>
<rect x="694.38" y="406.94" width="16.91" height="14.68" fill="#312042"/>
<rect x="710.09" y="406.94" width="18.21" height="14.68" fill="#2f2041"/>
</g>
<defs><mask id="m76" maskUnits="userSpaceOnUse" x="564.70" y="417.12" width="165.10" height="11.38"><rect x="565.70" y="418.12" width="163.10" height="9.38" fill="#fff"/></mask></defs>
<g mask="url(#m76)">
<rect x="566.20" y="415.12" width="11.56" height="14.68" fill="#edcfc9"/>
<rect x="576.56" y="415.12" width="9.06" height="14.68" fill="#c5849d"/>
<rect x="584.41" y="415.12" width="9.05" height="14.68" fill="#9b5c89"/>
<rect x="592.26" y="415.12" width="9.06" height="14.68" fill="#794678"/>
<rect x="600.12" y="415.12" width="9.06" height="14.68" fill="#643a6b"/>
<rect x="607.98" y="415.12" width="9.06" height="14.68" fill="#553361"/>
<rect x="615.83" y="415.12" width="9.06" height="14.68" fill="#4c2e5a"/>
<rect x="623.69" y="415.12" width="9.05" height="14.68" fill="#462b55"/>
<rect x="631.54" y="415.12" width="9.06" height="14.68" fill="#422952"/>
<rect x="639.39" y="415.12" width="9.06" height="14.68" fill="#3d274e"/>
<rect x="647.25" y="415.12" width="9.06" height="14.68" fill="#3b264b"/>
<rect x="655.11" y="415.12" width="9.06" height="14.68" fill="#39254a"/>
<rect x="662.96" y="415.12" width="9.05" height="14.68" fill="#382449"/>
<rect x="670.81" y="415.12" width="16.91" height="14.68" fill="#352346"/>
<rect x="686.52" y="415.12" width="9.06" height="14.68" fill="#342245"/>
<rect x="694.38" y="415.12" width="16.91" height="14.68" fill="#322143"/>
<rect x="710.09" y="415.12" width="9.06" height="14.68" fill="#312042"/>
<rect x="717.94" y="415.12" width="10.36" height="14.68" fill="#2f2041"/>
</g>
<defs><mask id="m77" maskUnits="userSpaceOnUse" x="564.70" y="425.30" width="165.10" height="11.38"><rect x="565.70" y="426.30" width="163.10" height="9.38" fill="#fff"/></mask></defs>
<g mask="url(#m77)">
<rect x="566.20" y="423.30" width="11.56" height="14.68" fill="#f4e3dc"/>
<rect x="576.56" y="423.30" width="9.06" height="14.68" fill="#cb8ca0"/>
<rect x="584.41" y="423.30" width="9.05" height="14.68" fill="#a2618c"/>
<rect x="592.26" y="423.30" width="9.06" height="14.68" fill="#824b7c"/>
<rect x="600.12" y="423.30" width="9.06" height="14.68" fill="#6e4071"/>
<rect x="607.98" y="423.30" width="9.06" height="14.68" fill="#5e3767"/>
<rect x="615.83" y="423.30" width="9.06" height="14.68" fill="#533260"/>
<rect x="623.69" y="423.30" width="9.05" height="14.68" fill="#4c2e5a"/>
<rect x="631.54" y="423.30" width="9.06" height="14.68" fill="#482c57"/>
<rect x="639.39" y="423.30" width="9.06" height="14.68" fill="#432a53"/>
<rect x="647.25" y="423.30" width="9.06" height="14.68" fill="#402850"/>
<rect x="655.11" y="423.30" width="9.06" height="14.68" fill="#3d274e"/>
<rect x="662.96" y="423.30" width="16.91" height="14.68" fill="#3b264b"/>
<rect x="678.67" y="423.30" width="9.06" height="14.68" fill="#382449"/>
<rect x="686.52" y="423.30" width="16.91" height="14.68" fill="#352346"/>
<rect x="702.23" y="423.30" width="9.06" height="14.68" fill="#342245"/>
<rect x="710.09" y="423.30" width="9.06" height="14.68" fill="#322143"/>
<rect x="717.94" y="423.30" width="10.36" height="14.68" fill="#2f2041"/>
</g>
<defs><mask id="m78" maskUnits="userSpaceOnUse" x="564.70" y="433.48" width="165.10" height="11.38"><rect x="565.70" y="434.48" width="163.10" height="9.38" fill="#fff"/></mask></defs>
<g mask="url(#m78)">
<rect x="566.20" y="431.48" width="11.56" height="14.68" fill="#f9f1ec"/>
<rect x="576.56" y="431.48" width="9.06" height="14.68" fill="#d79ea9"/>
<rect x="584.41" y="431.48" width="9.05" height="14.68" fill="#b06d92"/>
<rect x="592.26" y="431.48" width="9.06" height="14.68" fill="#925684"/>
<rect x="600.12" y="431.48" width="9.06" height="14.68" fill="#7e497a"/>
<rect x="607.98" y="431.48" width="9.06" height="14.68" fill="#6f4172"/>
<rect x="615.83" y="431.48" width="9.06" height="14.68" fill="#643a6b"/>
<rect x="623.69" y="431.48" width="9.05" height="14.68" fill="#5b3665"/>
<rect x="631.54" y="431.48" width="9.06" height="14.68" fill="#533260"/>
<rect x="639.39" y="431.48" width="9.06" height="14.68" fill="#4d2f5b"/>
<rect x="647.25" y="431.48" width="9.06" height="14.68" fill="#492d58"/>
<rect x="655.11" y="431.48" width="9.06" height="14.68" fill="#452b54"/>
<rect x="662.96" y="431.48" width="9.05" height="14.68" fill="#422952"/>
<rect x="670.81" y="431.48" width="9.06" height="14.68" fill="#3f284f"/>
<rect x="678.67" y="431.48" width="9.06" height="14.68" fill="#3c264d"/>
<rect x="686.52" y="431.48" width="9.06" height="14.68" fill="#39254a"/>
<rect x="694.38" y="431.48" width="9.05" height="14.68" fill="#362347"/>
<rect x="702.23" y="431.48" width="9.06" height="14.68" fill="#352346"/>
<rect x="710.09" y="431.48" width="9.06" height="14.68" fill="#342245"/>
<rect x="717.94" y="431.48" width="10.36" height="14.68" fill="#322143"/>
</g>
<defs><mask id="m79" maskUnits="userSpaceOnUse" x="564.70" y="441.66" width="165.10" height="11.38"><rect x="565.70" y="442.66" width="163.10" height="9.38" fill="#fff"/></mask></defs>
<g mask="url(#m79)">
<rect x="566.20" y="439.66" width="11.56" height="14.68" fill="#f9f1ec"/>
<rect x="576.56" y="439.66" width="9.06" height="14.68" fill="#ddaab0"/>
<rect x="584.41" y="439.66" width="9.05" height="14.68" fill="#be7b98"/>
<rect x="592.26" y="439.66" width="9.06" height="14.68" fill="#a5648d"/>
<rect x="600.12" y="439.66" width="9.06" height="14.68" fill="#925684"/>
<rect x="607.98" y="439.66" width="9.06" height="14.68" fill="#824b7c"/>
<rect x="615.83" y="439.66" width="9.06" height="14.68" fill="#754475"/>
<rect x="623.69" y="439.66" width="9.05" height="14.68" fill="#693d6f"/>
<rect x="631.54" y="439.66" width="9.06" height="14.68" fill="#62396a"/>
<rect x="639.39" y="439.66" width="9.06" height="14.68" fill="#583463"/>
<rect x="647.25" y="439.66" width="9.06" height="14.68" fill="#52315f"/>
<rect x="655.11" y="439.66" width="9.06" height="14.68" fill="#4b2e59"/>
<rect x="662.96" y="439.66" width="9.05" height="14.68" fill="#462b55"/>
<rect x="670.81" y="439.66" width="9.06" height="14.68" fill="#422952"/>
<rect x="678.67" y="439.66" width="9.06" height="14.68" fill="#3d274e"/>
<rect x="686.52" y="439.66" width="9.06" height="14.68" fill="#3b264b"/>
<rect x="694.38" y="439.66" width="9.05" height="14.68" fill="#382449"/>
<rect x="702.23" y="439.66" width="16.91" height="14.68" fill="#352346"/>
<rect x="717.94" y="439.66" width="10.36" height="14.68" fill="#342245"/>
</g>
<defs><mask id="m80" maskUnits="userSpaceOnUse" x="564.70" y="449.84" width="165.10" height="11.38"><rect x="565.70" y="450.84" width="163.10" height="9.38" fill="#fff"/></mask></defs>
<g mask="url(#m80)">
<rect x="566.20" y="447.84" width="11.56" height="14.68" fill="#eed4cd"/>
<rect x="576.56" y="447.84" width="9.06" height="14.68" fill="#e6bdbc"/>
<rect x="584.41" y="447.84" width="9.05" height="14.68" fill="#dba5ad"/>
<rect x="592.26" y="447.84" width="9.06" height="14.68" fill="#cf91a3"/>
<rect x="600.12" y="447.84" width="9.06" height="14.68" fill="#bf7c99"/>
<rect x="607.98" y="447.84" width="9.06" height="14.68" fill="#b16e92"/>
<rect x="615.83" y="447.84" width="9.06" height="14.68" fill="#a2618c"/>
<rect x="623.69" y="447.84" width="9.05" height="14.68" fill="#965886"/>
<rect x="631.54" y="447.84" width="9.06" height="14.68" fill="#8a5081"/>
<rect x="639.39" y="447.84" width="9.06" height="14.68" fill="#7f497b"/>
<rect x="647.25" y="447.84" width="9.06" height="14.68" fill="#6f4172"/>
<rect x="655.11" y="447.84" width="9.06" height="14.68" fill="#653b6c"/>
<rect x="662.96" y="447.84" width="9.05" height="14.68" fill="#5e3767"/>
<rect x="670.81" y="447.84" width="9.06" height="14.68" fill="#553361"/>
<rect x="678.67" y="447.84" width="9.06" height="14.68" fill="#4d2f5b"/>
<rect x="686.52" y="447.84" width="9.06" height="14.68" fill="#462b55"/>
<rect x="694.38" y="447.84" width="9.05" height="14.68" fill="#422952"/>
<rect x="702.23" y="447.84" width="9.06" height="14.68" fill="#3d274e"/>
<rect x="710.09" y="447.84" width="9.06" height="14.68" fill="#3b264b"/>
<rect x="717.94" y="447.84" width="10.36" height="14.68" fill="#382449"/>
</g>
<defs><mask id="m81" maskUnits="userSpaceOnUse" x="564.70" y="458.02" width="165.10" height="13.18"><rect x="565.70" y="459.02" width="163.10" height="11.18" fill="#fff"/></mask></defs>
<g mask="url(#m81)">
<rect x="566.20" y="456.02" width="11.56" height="14.68" fill="#eac7c3"/>
<rect x="576.56" y="456.02" width="9.06" height="14.68" fill="#e8c3c0"/>
<rect x="584.41" y="456.02" width="9.05" height="14.68" fill="#e6bebc"/>
<rect x="592.26" y="456.02" width="9.06" height="14.68" fill="#e2b3b5"/>
<rect x="600.12" y="456.02" width="9.06" height="14.68" fill="#d9a1ab"/>
<rect x="607.98" y="456.02" width="9.06" height="14.68" fill="#cf91a3"/>
<rect x="615.83" y="456.02" width="9.06" height="14.68" fill="#c4829c"/>
<rect x="623.69" y="456.02" width="9.05" height="14.68" fill="#b77495"/>
<rect x="631.54" y="456.02" width="9.06" height="14.68" fill="#ac6a90"/>
<rect x="639.39" y="456.02" width="9.06" height="14.68" fill="#a1608b"/>
<rect x="647.25" y="456.02" width="9.06" height="14.68" fill="#915584"/>
<rect x="655.11" y="456.02" width="9.06" height="14.68" fill="#854d7e"/>
<rect x="662.96" y="456.02" width="9.05" height="14.68" fill="#794678"/>
<rect x="670.81" y="456.02" width="9.06" height="14.68" fill="#6e4071"/>
<rect x="678.67" y="456.02" width="9.06" height="14.68" fill="#62396a"/>
<rect x="686.52" y="456.02" width="9.06" height="14.68" fill="#553361"/>
<rect x="694.38" y="456.02" width="9.05" height="14.68" fill="#4c2e5a"/>
<rect x="702.23" y="456.02" width="9.06" height="14.68" fill="#452b54"/>
<rect x="710.09" y="456.02" width="9.06" height="14.68" fill="#3f284f"/>
<rect x="717.94" y="456.02" width="10.36" height="14.68" fill="#3b264b"/>
</g>
</g>
<text x="573.50" y="478.00" font-size="10.8" text-anchor="start" fill="#111" stroke="#111" stroke-width="0.24" textLength="23.2" lengthAdjust="spacingAndGlyphs">0.05</text>
<text x="607.00" y="478.00" font-size="10.8" text-anchor="start" fill="#111" stroke="#111" stroke-width="0.24" textLength="72.5" lengthAdjust="spacingAndGlyphs">Bait coverage</text>
<text x="684.20" y="478.00" font-size="10.8" text-anchor="start" fill="#111" stroke="#111" stroke-width="0.24" textLength="19.2" lengthAdjust="spacingAndGlyphs">---&gt;</text>
<text x="714.00" y="478.00" font-size="10.8" text-anchor="start" fill="#111" stroke="#111" stroke-width="0.24" textLength="5.0" lengthAdjust="spacingAndGlyphs">1</text>
<text x="564.20" y="454.70" font-size="10.8" text-anchor="start" fill="#111" stroke="#111" stroke-width="0.24" textLength="137.2" lengthAdjust="spacingAndGlyphs" transform="rotate(-90 564.20 454.70)">0.05 Edge coverage ---&gt; 1</text>
<defs><linearGradient id="g82" x1="0" y1="0" x2="0" y2="1"><stop offset="0.0000" stop-color="#2d1e3e"/><stop offset="0.0417" stop-color="#382449"/><stop offset="0.0833" stop-color="#452b54"/><stop offset="0.1250" stop-color="#50305d"/><stop offset="0.1667" stop-color="#5e3767"/><stop offset="0.2083" stop-color="#693d6f"/><stop offset="0.2500" stop-color="#754475"/><stop offset="0.2917" stop-color="#824b7c"/><stop offset="0.3333" stop-color="#8e5383"/><stop offset="0.3750" stop-color="#995a88"/><stop offset="0.4167" stop-color="#a4638d"/><stop offset="0.4583" stop-color="#af6c91"/><stop offset="0.5000" stop-color="#b77495"/><stop offset="0.5417" stop-color="#c17e9a"/><stop offset="0.5833" stop-color="#c9889f"/><stop offset="0.6250" stop-color="#cf91a3"/><stop offset="0.6667" stop-color="#d59ba8"/><stop offset="0.7083" stop-color="#dca6ae"/><stop offset="0.7500" stop-color="#e0b0b3"/><stop offset="0.7917" stop-color="#e5bcbb"/><stop offset="0.8333" stop-color="#eac7c3"/><stop offset="0.8750" stop-color="#edd1cb"/><stop offset="0.9167" stop-color="#f1dcd6"/><stop offset="0.9583" stop-color="#f5e8e1"/><stop offset="1.0000" stop-color="#f9f1ec"/></linearGradient></defs>
<rect x="735.80" y="303.50" width="8.50" height="163.20" fill="url(#g82)"/>
<rect x="744.30" y="318.65" width="1.40" height="0.50" fill="#333"/>
<text x="747.40" y="320.60" font-size="5.0" text-anchor="start" fill="#222" stroke="#222" stroke-width="0.11" textLength="10.4" lengthAdjust="spacingAndGlyphs">0.40</text>
<rect x="744.30" y="352.55" width="1.40" height="0.50" fill="#333"/>
<text x="747.40" y="354.50" font-size="5.0" text-anchor="start" fill="#222" stroke="#222" stroke-width="0.11" textLength="10.4" lengthAdjust="spacingAndGlyphs">0.32</text>
<rect x="744.30" y="386.75" width="1.40" height="0.50" fill="#333"/>
<text x="747.40" y="388.70" font-size="5.0" text-anchor="start" fill="#222" stroke="#222" stroke-width="0.11" textLength="10.4" lengthAdjust="spacingAndGlyphs">0.24</text>
<rect x="744.30" y="420.55" width="1.40" height="0.50" fill="#333"/>
<text x="747.40" y="422.50" font-size="5.0" text-anchor="start" fill="#222" stroke="#222" stroke-width="0.11" textLength="10.4" lengthAdjust="spacingAndGlyphs">0.16</text>
<rect x="744.30" y="454.35" width="1.40" height="0.50" fill="#333"/>
<text x="747.40" y="456.30" font-size="5.0" text-anchor="start" fill="#222" stroke="#222" stroke-width="0.11" textLength="10.4" lengthAdjust="spacingAndGlyphs">0.08</text>
<text x="767.90" y="385.00" font-size="9.9" text-anchor="middle" fill="#111" stroke="#111" stroke-width="0.22" textLength="99.0" lengthAdjust="spacingAndGlyphs" transform="rotate(-90 767.90 385.00)">Dpowerlaw-DPoisson</text>
<text x="536.40" y="295.00" font-size="26.6" text-anchor="start" fill="#000" stroke="#000" stroke-width="0.59" textLength="14.2" lengthAdjust="spacingAndGlyphs">e</text>
</svg>
</body></html>
